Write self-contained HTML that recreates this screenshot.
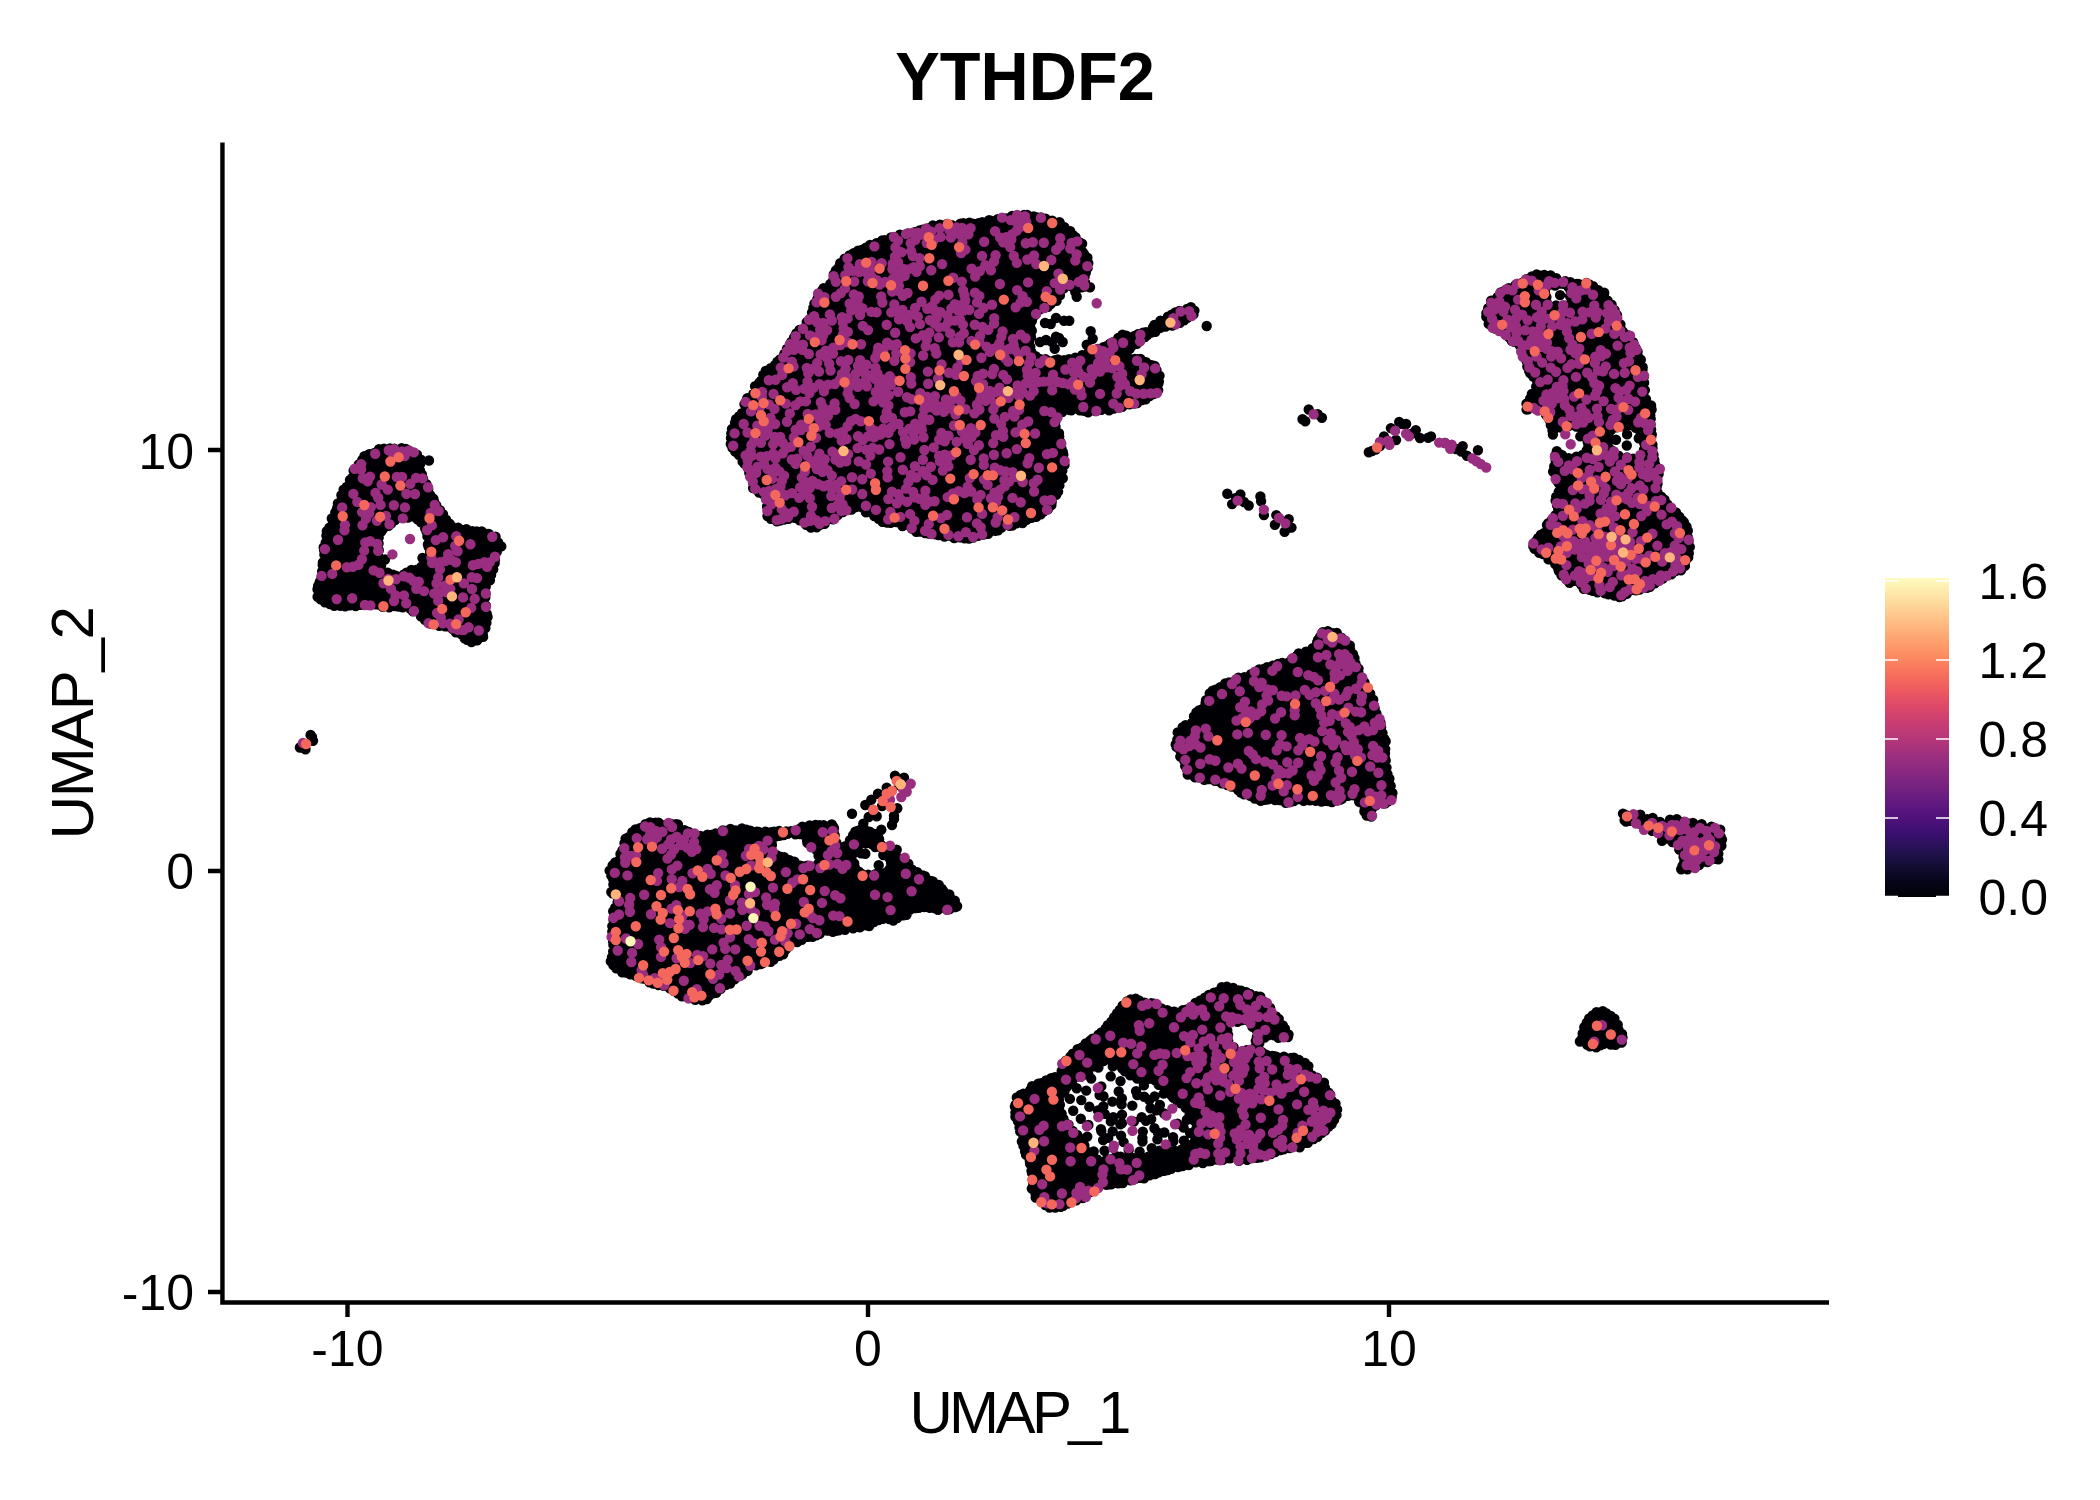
<!DOCTYPE html>
<html><head><meta charset="utf-8"><title>YTHDF2</title>
<style>html,body{margin:0;padding:0;background:#fff;width:2100px;height:1500px;overflow:hidden}svg{display:block}text{font-family:"Liberation Sans",Arial,Helvetica,sans-serif;fill:#000}</style>
</head><body>
<svg width="2100" height="1500" viewBox="0 0 2100 1500">
<defs><linearGradient id="mg" x1="0" y1="0" x2="0" y2="1"><stop offset="0.00" stop-color="#fcfdbf"/><stop offset="0.05" stop-color="#fde7a9"/><stop offset="0.10" stop-color="#fecf92"/><stop offset="0.15" stop-color="#feb77e"/><stop offset="0.20" stop-color="#fe9f6d"/><stop offset="0.25" stop-color="#fc8961"/><stop offset="0.30" stop-color="#f7705c"/><stop offset="0.35" stop-color="#ed5a5f"/><stop offset="0.40" stop-color="#de4968"/><stop offset="0.45" stop-color="#ca3e72"/><stop offset="0.50" stop-color="#b73779"/><stop offset="0.55" stop-color="#a1307e"/><stop offset="0.60" stop-color="#8c2981"/><stop offset="0.65" stop-color="#782281"/><stop offset="0.70" stop-color="#641a80"/><stop offset="0.75" stop-color="#51127c"/><stop offset="0.80" stop-color="#3b0f70"/><stop offset="0.85" stop-color="#251255"/><stop offset="0.90" stop-color="#140e36"/><stop offset="0.95" stop-color="#06051a"/><stop offset="1.00" stop-color="#000004"/></linearGradient></defs>
<rect width="2100" height="1500" fill="#fff"/>
<text x="1025.1" y="100.3" font-size="68.5" font-weight="bold" text-anchor="middle" textLength="259.5" lengthAdjust="spacingAndGlyphs">YTHDF2</text>
<g id="dots"><path d="M747.5 468.3L753.0 482.6L753.8 489.4L763.5 493.4L765.1 494.7L765.8 496.1L768.2 508.5L768.2 517.4L776.6 520.7L787.9 518.9L795.1 516.9L797.2 516.9L799.5 518.1L807.9 525.7L811.6 527.5L817.5 526.0L824.9 523.2L834.3 518.5L844.4 511.5L853.9 507.2L856.2 506.8L858.1 507.2L867.7 511.5L878.0 517.8L883.0 521.9L897.4 523.0L910.7 528.1L926.3 533.0L940.7 535.8L968.6 538.7L1008.2 527.1L1022.4 521.1L1039.6 515.3L1049.8 507.7L1056.2 493.0L1061.0 480.5L1064.7 462.9L1060.0 439.3L1054.8 422.5L1055.0 420.4L1055.7 419.0L1062.1 411.6L1063.6 410.4L1065.5 409.8L1076.3 410.8L1095.7 410.8L1113.1 408.9L1130.4 405.0L1141.8 400.3L1156.5 392.5L1158.9 383.1L1159.7 374.1L1156.1 367.6L1145.9 360.8L1129.3 356.5L1127.8 355.1L1127.0 353.3L1127.3 349.8L1128.8 347.9L1137.1 342.7L1148.4 334.5L1164.9 327.2L1180.8 322.2L1194.5 313.7L1195.2 310.8L1191.7 307.8L1175.0 312.8L1162.8 319.4L1149.0 329.8L1134.1 336.1L1121.6 335.3L1109.6 344.5L1101.6 347.9L1094.7 349.0L1078.6 358.0L1067.5 360.2L1044.0 360.1L1033.0 354.3L1031.0 351.5L1029.8 339.6L1030.8 333.4L1031.8 320.6L1032.4 318.6L1037.8 310.9L1046.5 306.4L1055.4 301.1L1059.1 296.0L1060.1 290.1L1062.1 287.7L1064.0 286.9L1071.0 285.9L1073.3 287.0L1076.7 290.3L1079.5 287.4L1086.9 284.3L1084.1 278.8L1083.8 276.7L1084.3 274.7L1087.9 267.6L1088.6 260.0L1084.4 255.5L1082.1 245.2L1077.1 238.4L1069.5 230.9L1060.5 223.7L1045.6 219.0L1024.8 214.3L1008.0 217.1L989.5 221.2L960.5 224.2L936.1 225.2L923.2 230.1L889.5 238.0L863.2 247.7L845.5 258.0L834.6 271.6L830.2 283.0L820.2 291.3L812.9 306.7L810.1 319.2L809.3 321.0L802.7 328.7L792.3 339.0L785.8 352.5L774.5 364.9L764.1 372.5L752.4 395.7L751.1 397.1L745.2 400.9L744.8 409.9L743.5 411.9L734.9 419.6L734.1 425.1L729.6 439.4L734.4 448.3L741.3 458.0ZM358.6 463.5L342.9 491.9L338.5 506.4L329.7 524.2L325.7 534.8L325.7 543.2L322.7 573.0L318.3 585.0L317.1 593.0L321.3 600.3L330.8 605.0L344.0 606.4L358.7 604.9L373.3 604.9L382.5 606.4L404.1 606.6L417.2 611.6L426.5 622.1L433.2 625.5L446.7 625.5L449.3 626.2L464.1 639.5L471.4 642.6L482.3 637.2L485.6 629.4L486.9 616.0L485.5 601.3L485.6 585.7L486.3 583.9L491.6 577.2L493.0 567.8L496.0 556.0L499.6 545.9L495.5 537.4L488.8 533.0L467.7 530.2L452.4 527.1L450.2 525.7L442.5 513.4L436.1 505.4L420.0 471.6L419.5 469.2L420.6 459.8L415.5 454.4L406.8 449.4L395.2 448.1L383.3 448.8L372.5 453.6L364.6 456.2ZM428.1 542.0L431.0 553.7L431.0 556.4L429.7 558.7L420.8 567.4L408.6 571.9L395.1 576.2L393.0 575.8L383.5 570.5L381.4 568.4L376.9 546.0L377.0 543.7L381.8 530.9L392.5 521.5L411.0 515.9L412.6 515.8L414.6 516.5L424.5 525.1L425.7 526.8ZM1500.6 293.1L1491.2 301.5L1487.3 311.1L1489.2 325.8L1496.8 328.8L1503.0 333.8L1512.8 339.9L1519.6 346.7L1523.9 357.3L1527.7 363.9L1528.9 371.2L1533.6 375.1L1534.8 376.9L1537.5 386.3L1537.4 388.8L1536.0 390.9L1530.5 395.3L1526.6 403.2L1525.9 408.2L1527.4 409.6L1541.3 409.6L1544.4 411.1L1545.6 412.7L1550.5 423.9L1553.2 434.4L1554.3 430.4L1557.2 427.9L1572.6 425.3L1574.8 425.8L1585.8 431.4L1587.7 433.4L1588.7 436.4L1586.4 451.1L1584.8 453.8L1582.6 455.2L1569.6 458.6L1567.2 458.7L1564.2 457.6L1555.9 451.2L1555.9 460.9L1553.5 470.7L1558.4 486.5L1556.0 498.8L1557.0 512.2L1555.6 514.9L1548.8 520.6L1545.0 531.4L1536.8 539.9L1531.4 547.2L1531.9 548.2L1539.5 553.7L1554.1 561.7L1555.4 563.4L1558.9 572.7L1566.0 578.9L1577.9 583.7L1589.3 589.9L1611.2 594.8L1622.6 596.8L1629.6 590.8L1631.5 589.8L1647.7 588.4L1659.8 580.1L1683.4 568.3L1690.3 549.0L1687.5 537.8L1686.2 526.7L1682.0 519.5L1672.1 509.4L1659.4 494.2L1658.4 492.5L1656.9 479.5L1659.2 468.9L1653.2 457.8L1653.1 445.7L1650.7 430.9L1649.6 419.6L1650.7 406.1L1646.4 396.5L1643.7 387.0L1643.6 374.5L1641.3 363.2L1639.1 355.5L1634.4 345.9L1630.1 335.3L1622.6 329.9L1621.4 328.5L1617.5 319.2L1615.3 309.4L1607.6 301.7L1602.9 293.6L1595.6 288.4L1587.3 283.7L1573.0 283.2L1559.1 280.7L1543.7 274.4L1534.0 275.8ZM1609.4 432.4L1611.3 429.2L1614.2 427.5L1629.5 425.3L1631.6 425.4L1633.7 426.4L1643.1 432.6L1645.3 435.7L1645.7 439.1L1643.6 451.4L1642.6 453.7L1640.7 455.7L1638.0 456.7L1624.1 458.8L1622.0 458.5L1620.2 457.6L1610.5 450.1L1608.7 447.5L1608.3 444.6ZM1545.5 294.0L1545.3 291.4L1545.9 289.0L1547.1 287.3L1549.1 285.9L1551.4 285.3L1562.7 284.3L1564.7 284.5L1567.2 285.7L1569.2 288.3L1571.6 297.8L1571.6 300.5L1570.1 303.5L1567.3 305.4L1555.7 306.7L1553.4 306.6L1550.9 305.4L1549.1 303.4ZM1312.6 648.2L1310.7 649.9L1299.7 654.0L1287.9 662.6L1273.2 664.3L1260.1 669.5L1245.9 676.6L1231.9 680.9L1209.9 692.5L1206.8 697.7L1203.6 708.2L1201.3 710.2L1195.5 712.1L1194.4 719.3L1192.8 721.9L1183.1 726.4L1181.5 728.8L1177.5 739.4L1174.6 745.3L1180.0 752.0L1189.0 774.9L1196.1 775.9L1210.3 780.2L1223.3 783.1L1248.9 795.8L1258.9 799.6L1272.5 799.6L1286.0 802.3L1300.0 799.6L1314.3 801.0L1327.7 801.0L1340.5 799.7L1351.4 794.3L1354.5 794.2L1356.3 795.1L1357.4 796.2L1363.5 806.9L1363.9 809.9L1362.8 812.7L1368.0 816.0L1372.3 814.7L1373.5 807.2L1375.4 804.8L1377.8 803.8L1388.2 802.7L1390.5 799.6L1392.5 792.4L1388.7 782.0L1385.8 749.5L1383.1 735.9L1379.0 719.5L1369.4 692.1L1363.8 682.3L1358.2 669.7L1355.3 659.5L1351.3 650.3L1346.3 641.5L1336.9 633.3L1324.2 631.2ZM618.8 859.0L617.5 860.8L610.6 866.1L609.4 870.7L613.2 881.3L612.3 891.7L616.7 898.7L617.2 901.1L616.8 903.1L612.4 911.1L613.2 919.4L611.3 930.1L613.2 942.6L613.2 954.0L612.9 955.6L610.3 961.6L624.3 973.2L636.7 976.1L649.8 982.1L664.2 986.3L677.2 992.3L687.8 998.1L696.5 999.8L705.3 999.8L725.1 984.7L739.0 976.7L752.0 965.7L753.8 964.9L766.3 962.1L780.0 955.7L790.1 945.7L802.1 939.2L813.2 936.1L822.9 931.9L832.4 931.8L845.9 928.9L859.0 927.9L870.8 924.2L880.0 918.9L892.5 919.7L904.1 916.4L909.4 910.2L912.1 908.9L927.1 907.8L940.2 910.7L958.5 908.0L951.0 896.4L943.6 890.0L932.2 880.4L919.8 874.7L910.8 869.1L902.4 860.8L894.9 854.2L889.7 850.9L887.3 851.2L885.0 850.2L883.3 848.3L876.1 833.9L869.9 830.8L864.0 828.6L854.4 832.0L853.1 837.0L850.9 850.8L848.7 853.5L845.7 854.2L839.8 852.7L837.3 850.2L833.0 825.9L815.2 824.2L804.9 826.0L796.5 831.0L786.0 832.2L775.7 831.2L766.3 831.2L755.5 832.2L741.6 828.3L726.1 830.1L712.9 834.1L699.9 836.2L698.0 835.8L685.5 830.6L676.2 824.1L660.0 823.2L647.2 824.1L635.0 829.4L628.4 835.9ZM889.1 853.8L890.8 855.9L891.2 858.0L890.2 868.5L889.3 870.9L886.5 873.0L876.0 875.1L861.2 873.1L859.4 872.5L857.6 870.8L852.6 862.8L851.9 860.9L853.0 848.5L854.7 846.0L857.0 844.9L867.5 843.8L869.5 844.0L880.3 847.4ZM808.2 844.4L815.5 848.5L817.1 849.8L818.0 851.6L820.2 860.5L819.0 863.3L817.1 864.8L805.7 867.2L792.8 862.7L785.7 856.9L776.1 855.1L774.2 854.4L772.8 853.0L771.9 851.2L770.8 842.7L771.5 840.3L773.8 838.3L788.3 833.1L790.4 832.8L801.9 834.9L803.7 835.6L805.7 837.7ZM1022.3 1136.4L1022.5 1145.2L1027.3 1155.0L1032.7 1171.1L1032.8 1188.2L1037.0 1198.1L1046.9 1206.7L1056.1 1208.0L1085.3 1196.6L1099.0 1188.0L1113.8 1182.5L1127.8 1180.8L1142.8 1177.4L1158.0 1172.4L1173.7 1168.9L1191.2 1163.6L1208.5 1161.9L1225.9 1158.4L1243.4 1160.1L1261.1 1156.9L1285.2 1148.2L1298.7 1146.5L1314.7 1138.5L1324.1 1132.3L1333.4 1121.4L1337.6 1111.5L1336.4 1104.0L1326.6 1090.8L1323.4 1083.1L1310.0 1074.4L1309.0 1072.7L1306.0 1064.0L1298.4 1059.0L1276.9 1057.2L1259.2 1052.0L1256.7 1050.3L1255.9 1049.0L1255.5 1047.0L1256.4 1044.1L1266.9 1035.5L1268.4 1035.0L1270.5 1035.0L1279.8 1038.2L1288.1 1036.1L1288.1 1033.0L1282.2 1022.8L1272.1 1012.5L1267.0 1004.1L1256.6 995.2L1242.5 992.1L1229.3 987.2L1219.6 988.6L1208.6 994.8L1198.5 1001.6L1189.7 1006.9L1177.3 1011.1L1164.9 1010.9L1163.1 1009.9L1155.8 1004.0L1142.7 1002.3L1134.1 998.0L1125.3 1003.1L1115.9 1014.0L1108.2 1026.8L1094.2 1037.4L1084.0 1045.9L1073.7 1052.7L1063.3 1063.2L1061.7 1072.4L1060.0 1075.0L1041.8 1082.6L1026.9 1090.8L1016.5 1098.2L1014.1 1105.5L1017.2 1119.4ZM1255.1 1045.9L1254.1 1048.2L1251.5 1050.0L1240.5 1052.2L1238.5 1052.0L1236.7 1051.0L1229.3 1043.7L1228.0 1041.5L1227.8 1026.5L1229.0 1023.6L1231.6 1022.0L1244.1 1019.9L1246.2 1020.0L1248.5 1021.2L1255.9 1029.6L1257.1 1031.8L1257.1 1033.9ZM1093.6 1064.7L1095.0 1063.3L1096.9 1062.5L1114.0 1059.0L1116.0 1059.0L1118.0 1059.8L1119.4 1061.3L1125.6 1073.7L1141.6 1079.5L1160.1 1079.5L1163.0 1080.7L1164.3 1082.4L1170.5 1095.1L1187.3 1108.4L1196.9 1123.6L1197.4 1126.6L1195.6 1140.3L1194.6 1142.6L1192.7 1144.3L1178.1 1151.4L1160.5 1151.6L1141.4 1158.4L1115.8 1156.9L1103.1 1161.6L1101.0 1161.9L1099.0 1161.4L1091.3 1157.5L1089.7 1155.6L1083.2 1142.5L1062.4 1118.1L1058.4 1100.2L1059.2 1097.3L1071.8 1081.1L1073.5 1079.9L1087.5 1073.8ZM1589.3 1019.1L1584.0 1028.0L1583.7 1035.8L1580.9 1040.9L1581.0 1042.5L1585.2 1045.2L1597.3 1047.3L1604.3 1044.0L1613.2 1043.9L1618.4 1045.0L1620.5 1043.0L1622.1 1037.7L1622.1 1033.5L1618.8 1030.2L1616.7 1022.8L1613.9 1019.0L1609.2 1016.3L1605.5 1012.9L1602.2 1011.7L1597.6 1013.1L1593.5 1016.5ZM1635.6 821.5L1637.6 822.3L1643.8 827.3L1660.1 830.1L1662.4 832.6L1663.2 837.8L1665.7 839.5L1674.3 840.7L1676.9 842.2L1680.2 848.3L1685.9 851.8L1687.4 854.4L1687.1 857.9L1681.6 867.2L1683.2 868.1L1685.8 867.4L1699.6 861.2L1709.1 861.0L1716.8 857.0L1717.0 852.4L1719.9 844.8L1719.4 834.0L1718.2 832.3L1699.8 826.7L1691.6 825.4L1683.6 822.4L1676.3 821.4L1669.8 822.6L1666.9 825.6L1663.9 826.2L1661.9 825.6L1658.3 823.2L1651.0 820.5L1641.6 819.7L1636.5 816.7L1624.4 814.5L1622.8 815.8L1623.0 817.2L1625.9 819.8Z" fill="#000004"/><path d="M922.5 229.7h0M929.0 228.3h0M932.9 225.4h0M939.9 224.7h0M944.1 225.4h0M947.1 223.9h0M951.8 225.1h0M960.4 223.7h0M963.3 223.2h0M969.4 222.7h0M972.8 223.6h0M978.5 223.1h0M982.2 222.3h0M989.1 220.1h0M991.8 220.9h0M997.7 219.1h0M1003.4 218.1h0M1008.1 218.1h0M1012.2 216.0h0M1017.6 216.4h0M1024.0 214.9h0M1027.2 215.0h0M1033.7 216.5h0M1037.1 217.4h0M1041.0 217.4h0M1045.6 218.6h0M1052.2 220.8h0M1059.5 222.3h0M1060.7 224.7h0M1064.4 227.3h0M862.4 249.7h0M865.9 247.7h0M870.0 244.9h0M876.5 243.2h0M882.2 240.4h0M884.6 240.3h0M891.0 237.4h0M894.6 237.4h0M899.8 234.7h0M906.9 234.2h0M908.0 233.5h0M914.8 232.2h0M919.6 230.5h0M1070.3 231.3h0M1073.1 235.2h0M1075.5 237.1h0M1079.8 242.4h0M1082.1 243.8h0M838.1 268.1h0M840.2 263.3h0M844.6 258.7h0M849.4 255.4h0M853.6 253.3h0M858.0 250.8h0M1082.7 252.3h0M1084.0 254.0h0M1087.4 257.8h0M1087.6 267.9h0M1088.3 263.3h0M823.6 288.3h0M830.3 284.0h0M833.4 280.0h0M833.8 274.5h0M835.9 270.4h0M1063.8 288.2h0M1066.6 285.7h0M1072.5 286.9h0M1075.0 289.9h0M1081.7 287.3h0M1084.6 276.9h0M1084.8 286.5h0M1085.0 282.1h0M1085.8 272.8h0M1090.0 287.3h0M1508.6 288.1h0M1515.8 284.8h0M1516.6 284.8h0M1521.9 282.9h0M1527.0 279.2h0M1531.8 276.5h0M1536.7 274.4h0M1542.3 275.5h0M1544.2 275.0h0M1545.2 289.3h0M1549.4 284.8h0M1550.6 275.5h0M1555.1 285.6h0M1556.2 278.1h0M1559.2 281.6h0M1560.1 283.6h0M1563.6 283.9h0M1565.2 281.1h0M1568.7 287.4h0M1570.3 282.3h0M1576.3 283.9h0M1578.4 284.0h0M1586.5 283.0h0M1589.3 284.5h0M1593.1 286.3h0M813.4 307.7h0M814.4 303.6h0M817.4 298.9h0M818.7 293.5h0M822.2 290.4h0M1039.9 309.2h0M1045.3 307.4h0M1048.0 306.8h0M1050.7 304.1h0M1056.6 300.8h0M1059.4 290.7h0M1059.9 295.4h0M1075.3 292.0h0M1076.7 296.7h0M1187.1 309.0h0M1190.9 307.2h0M1488.2 308.2h0M1491.2 300.8h0M1491.2 304.1h0M1497.5 297.1h0M1500.7 292.4h0M1505.5 290.3h0M1545.1 293.2h0M1546.4 297.3h0M1546.8 302.6h0M1553.2 307.5h0M1556.1 305.4h0M1560.1 295.1h0M1562.3 306.6h0M1565.9 305.8h0M1570.1 296.3h0M1570.8 291.8h0M1572.0 300.9h0M1598.3 290.2h0M1604.1 296.6h0M1604.2 292.7h0M1607.7 300.7h0M1611.6 304.6h0M799.5 329.9h0M805.9 326.4h0M806.7 322.2h0M810.2 319.0h0M812.0 312.6h0M1030.2 326.9h0M1031.9 320.8h0M1033.4 316.5h0M1035.5 314.6h0M1045.0 323.0h0M1050.7 324.0h0M1056.0 318.0h0M1064.0 320.7h0M1069.3 320.7h0M1153.0 327.4h0M1154.4 324.9h0M1160.3 327.9h0M1160.4 320.7h0M1165.0 320.4h0M1165.6 326.5h0M1167.9 316.6h0M1171.6 314.7h0M1172.2 325.5h0M1174.5 324.2h0M1175.3 312.5h0M1179.5 311.0h0M1179.9 322.8h0M1184.1 320.2h0M1187.4 317.7h0M1193.5 314.2h0M1194.4 310.6h0M1206.7 326.0h0M1486.3 316.7h0M1486.4 313.2h0M1488.7 323.9h0M1492.0 326.6h0M1495.2 328.5h0M1614.6 310.2h0M1616.9 318.2h0M1617.1 315.3h0M1620.4 324.5h0M1620.8 328.9h0M787.0 348.7h0M789.7 345.2h0M791.3 341.9h0M794.1 337.5h0M796.3 333.5h0M1029.4 340.7h0M1030.3 346.8h0M1031.0 336.9h0M1031.8 330.8h0M1040.0 342.0h0M1046.0 340.0h0M1052.0 342.0h0M1054.7 348.7h0M1056.0 336.7h0M1059.0 338.0h0M1062.7 342.0h0M1086.7 344.7h0M1090.7 331.3h0M1092.7 338.7h0M1097.9 348.9h0M1103.4 347.3h0M1106.9 345.9h0M1110.0 343.7h0M1114.0 342.0h0M1118.3 337.9h0M1122.5 334.7h0M1126.3 335.7h0M1129.7 348.9h0M1132.1 345.5h0M1133.9 336.2h0M1136.9 343.7h0M1138.0 334.2h0M1139.4 341.2h0M1143.0 332.8h0M1145.0 337.0h0M1146.0 332.2h0M1147.3 335.0h0M1151.2 332.6h0M1155.4 331.7h0M1499.9 330.2h0M1505.3 334.1h0M1509.1 337.4h0M1511.8 340.9h0M1514.4 341.8h0M1519.7 345.3h0M1622.8 331.4h0M1628.3 335.4h0M1630.1 338.7h0M1633.1 342.2h0M1635.9 348.4h0M770.7 368.1h0M775.1 365.0h0M777.4 361.6h0M780.0 359.4h0M784.3 354.0h0M1031.2 351.6h0M1035.7 356.1h0M1040.4 359.1h0M1045.5 359.1h0M1048.1 360.7h0M1054.8 360.2h0M1057.8 359.5h0M1064.0 360.3h0M1069.0 359.2h0M1075.3 357.7h0M1078.3 358.1h0M1082.2 355.2h0M1088.5 352.4h0M1091.1 351.6h0M1126.7 353.6h0M1134.7 358.9h0M1137.4 359.1h0M1140.5 358.9h0M1146.0 362.2h0M1151.6 365.2h0M1154.7 366.0h0M1521.8 350.5h0M1524.0 353.9h0M1526.6 361.1h0M1527.3 366.5h0M1637.6 351.7h0M1637.7 355.8h0M1640.8 359.7h0M1642.5 369.8h0M1642.7 367.3h0M755.1 386.3h0M759.3 382.8h0M761.1 380.6h0M763.3 374.7h0M765.7 371.0h0M1156.5 370.3h0M1158.4 383.5h0M1158.9 381.4h0M1159.5 375.7h0M1529.2 371.0h0M1530.1 373.0h0M1533.2 376.5h0M1536.2 386.7h0M1537.0 380.8h0M1642.3 384.0h0M1643.9 376.5h0M1644.1 382.8h0M744.5 404.2h0M746.0 408.8h0M747.3 398.3h0M752.1 396.7h0M753.4 393.6h0M1101.3 409.7h0M1113.8 408.6h0M1119.5 407.2h0M1122.3 406.8h0M1129.5 404.3h0M1133.2 403.4h0M1137.2 403.1h0M1141.9 400.0h0M1145.7 399.3h0M1149.6 396.0h0M1153.6 394.1h0M1158.2 390.1h0M1308.7 409.5h0M1526.5 403.7h0M1526.6 409.6h0M1528.1 409.3h0M1530.1 398.6h0M1531.9 394.0h0M1535.7 408.9h0M1537.3 390.5h0M1539.6 409.5h0M1644.9 390.1h0M1645.2 398.4h0M1646.0 399.1h0M1651.1 405.5h0M1651.6 409.5h0M732.0 428.9h0M735.1 422.7h0M736.0 419.3h0M739.1 416.2h0M741.9 413.3h0M1055.1 417.8h0M1055.3 421.8h0M1055.5 426.6h0M1058.7 412.7h0M1062.2 412.0h0M1069.8 410.1h0M1071.3 410.4h0M1079.8 410.3h0M1084.1 410.8h0M1088.1 412.2h0M1094.5 410.6h0M1095.6 411.0h0M1109.1 410.3h0M1302.5 419.2h0M1305.3 421.2h0M1317.7 414.3h0M1321.9 417.8h0M1390.9 428.1h0M1399.2 421.9h0M1402.0 424.0h0M1406.1 424.0h0M1545.7 411.6h0M1546.0 414.8h0M1549.6 420.1h0M1550.8 425.1h0M1560.9 427.5h0M1563.7 425.5h0M1568.4 426.0h0M1573.3 424.6h0M1576.3 426.6h0M1611.2 429.8h0M1616.4 427.2h0M1623.2 426.3h0M1626.3 426.0h0M1630.1 424.8h0M1635.7 427.7h0M1638.9 429.6h0M1650.3 415.3h0M1650.6 424.4h0M1650.7 419.0h0M1651.1 429.5h0M379.0 449.3h0M384.0 448.7h0M390.0 448.5h0M394.2 448.6h0M401.6 448.3h0M405.8 448.9h0M730.8 444.0h0M731.0 437.9h0M731.3 433.4h0M732.5 447.9h0M1059.0 433.3h0M1059.2 436.6h0M1060.3 441.9h0M1061.4 448.3h0M1375.7 449.6h0M1380.0 446.0h0M1384.0 436.4h0M1396.0 440.0h0M1411.6 433.7h0M1415.8 430.2h0M1420.0 438.0h0M1428.2 437.8h0M1431.0 436.4h0M1445.0 443.0h0M1456.0 449.0h0M1462.7 446.1h0M1552.5 430.5h0M1552.9 434.6h0M1553.4 430.2h0M1580.3 436.4h0M1582.5 430.0h0M1587.6 432.8h0M1587.7 442.1h0M1588.4 445.9h0M1589.3 437.6h0M1608.2 441.4h0M1608.5 438.1h0M1608.6 447.3h0M1609.8 431.3h0M1616.0 439.7h0M1626.8 445.5h0M1627.1 434.4h0M1638.8 438.2h0M1644.0 449.6h0M1644.2 443.1h0M1646.5 435.5h0M1646.7 439.8h0M1651.2 437.4h0M1651.8 434.6h0M1652.4 444.7h0M1652.5 448.2h0M356.4 469.4h0M358.8 464.4h0M362.3 459.9h0M364.4 456.1h0M369.2 454.2h0M374.5 453.0h0M410.6 452.0h0M412.8 452.7h0M417.0 454.8h0M420.2 463.8h0M420.9 459.6h0M429.0 460.5h0M735.2 451.6h0M738.8 454.7h0M742.6 461.5h0M744.3 463.6h0M748.1 468.3h0M1062.8 452.0h0M1063.3 454.8h0M1063.6 461.1h0M1064.5 464.9h0M1368.8 452.3h0M1372.0 451.0h0M1461.3 451.6h0M1466.9 455.8h0M1477.9 450.2h0M1554.2 466.4h0M1555.2 455.8h0M1555.7 460.7h0M1556.8 451.2h0M1560.5 454.5h0M1562.1 455.3h0M1568.7 458.1h0M1574.1 459.3h0M1576.4 456.7h0M1582.6 454.9h0M1586.7 450.4h0M1612.2 450.6h0M1613.5 453.0h0M1618.5 455.8h0M1626.1 459.1h0M1627.0 457.4h0M1633.2 458.7h0M1640.3 456.6h0M1643.6 453.7h0M1653.5 454.7h0M1654.3 459.9h0M1654.9 464.0h0M1659.3 468.7h0M343.6 489.6h0M346.6 486.9h0M350.0 479.9h0M352.4 477.8h0M353.6 470.6h0M420.0 470.5h0M421.9 474.5h0M423.0 478.7h0M426.4 484.2h0M428.2 489.0h0M749.3 472.9h0M752.1 475.4h0M753.1 488.1h0M753.3 483.5h0M755.8 488.9h0M1059.4 485.4h0M1060.8 479.3h0M1062.3 470.6h0M1062.8 478.3h0M1553.1 471.6h0M1555.4 474.3h0M1557.1 480.7h0M1559.0 483.5h0M1656.7 486.9h0M1657.0 478.2h0M1657.5 483.8h0M1658.6 474.1h0M337.2 507.9h0M337.9 503.4h0M341.4 495.2h0M341.5 500.5h0M430.3 495.1h0M433.4 498.8h0M434.2 501.9h0M436.3 505.5h0M759.1 492.6h0M763.8 494.5h0M766.0 498.7h0M767.1 506.5h0M768.4 508.1h0M847.8 509.6h0M851.6 509.5h0M856.0 507.0h0M862.2 507.2h0M1048.1 509.0h0M1051.4 505.0h0M1051.7 501.9h0M1056.1 494.9h0M1058.1 491.6h0M1227.3 493.7h0M1232.1 504.1h0M1236.0 498.0h0M1240.4 494.4h0M1244.0 502.0h0M1248.7 505.5h0M1260.4 496.5h0M1261.1 501.3h0M1555.6 500.6h0M1556.2 496.6h0M1557.0 505.3h0M1558.7 492.0h0M1657.6 492.8h0M1661.3 496.8h0M1664.5 499.6h0M1667.5 504.4h0M1671.1 507.9h0M329.4 527.8h0M331.8 518.4h0M332.8 521.4h0M335.3 512.4h0M382.8 529.3h0M388.6 525.9h0M391.2 523.6h0M395.1 520.0h0M402.7 517.5h0M407.8 517.5h0M411.5 516.2h0M413.9 515.4h0M417.4 519.3h0M421.0 522.4h0M425.2 528.4h0M440.0 510.1h0M443.0 514.2h0M446.1 519.8h0M449.6 523.7h0M451.3 526.2h0M458.1 527.8h0M462.2 529.9h0M466.4 529.1h0M767.5 516.0h0M770.8 518.7h0M776.8 521.3h0M779.9 520.5h0M783.9 519.6h0M788.5 518.7h0M794.8 517.7h0M799.7 520.2h0M803.9 520.5h0M806.2 524.9h0M810.9 527.6h0M816.7 527.2h0M819.6 525.1h0M824.6 523.9h0M829.7 518.8h0M833.1 519.3h0M837.8 515.1h0M842.9 512.1h0M866.0 512.4h0M869.5 511.8h0M874.3 516.1h0M878.6 518.7h0M882.5 521.8h0M887.1 522.5h0M890.7 522.8h0M896.3 522.1h0M902.5 526.1h0M906.3 524.6h0M911.8 528.5h0M1001.5 527.6h0M1009.6 525.9h0M1012.3 525.6h0M1016.5 523.3h0M1022.5 523.1h0M1026.6 519.8h0M1031.4 517.8h0M1036.3 516.9h0M1040.7 514.4h0M1044.0 511.3h0M1263.9 515.1h0M1274.9 524.8h0M1276.3 515.1h0M1288.7 519.3h0M1291.5 527.6h0M1547.0 525.0h0M1548.0 523.4h0M1551.3 520.6h0M1555.5 515.3h0M1558.3 510.1h0M1676.0 512.4h0M1679.3 516.7h0M1682.3 520.5h0M1683.9 522.3h0M1686.5 526.7h0M323.7 547.2h0M325.7 542.6h0M326.4 535.8h0M326.8 531.2h0M375.9 548.6h0M378.6 543.4h0M378.7 537.6h0M381.2 531.5h0M426.5 531.4h0M427.4 536.2h0M427.9 544.4h0M428.6 546.8h0M472.3 531.3h0M476.6 531.5h0M481.7 531.5h0M487.0 533.9h0M488.9 534.0h0M495.6 536.7h0M498.1 542.5h0M501.3 546.4h0M916.3 531.9h0M920.3 531.5h0M925.1 533.0h0M929.5 533.9h0M935.2 534.4h0M938.6 535.0h0M944.5 536.5h0M949.0 535.6h0M954.2 538.1h0M959.6 537.4h0M964.6 538.4h0M969.0 538.6h0M973.2 537.6h0M978.1 535.9h0M983.4 534.5h0M988.2 533.7h0M995.4 530.8h0M998.1 530.2h0M1284.6 531.7h0M1533.4 546.4h0M1534.6 548.9h0M1536.0 541.3h0M1538.0 538.1h0M1540.9 534.8h0M1544.2 533.0h0M1687.8 530.7h0M1687.8 537.3h0M1688.5 541.2h0M1689.8 546.9h0M322.7 564.9h0M322.9 562.4h0M324.1 550.2h0M324.4 554.8h0M378.3 556.1h0M378.8 550.3h0M380.0 561.4h0M381.1 565.2h0M385.0 559.5h0M411.5 569.9h0M416.9 569.6h0M421.5 566.8h0M422.5 558.0h0M424.9 563.2h0M428.2 560.8h0M430.1 552.0h0M431.5 557.3h0M493.2 569.4h0M494.7 563.0h0M494.8 560.1h0M495.2 554.2h0M496.8 551.7h0M1539.3 552.9h0M1543.1 554.1h0M1548.5 559.4h0M1551.4 559.1h0M1555.2 564.0h0M1558.2 568.6h0M1684.9 565.9h0M1685.4 561.1h0M1688.2 557.4h0M1688.8 553.2h0M317.5 589.3h0M318.1 585.9h0M319.8 581.9h0M321.6 577.4h0M322.1 571.4h0M383.9 572.2h0M387.7 572.7h0M393.0 574.7h0M395.7 575.8h0M403.6 574.6h0M406.4 572.6h0M485.7 586.8h0M485.7 583.7h0M489.9 580.3h0M491.1 574.9h0M1558.9 571.0h0M1561.5 575.3h0M1567.0 579.7h0M1569.5 582.8h0M1575.3 580.8h0M1581.1 584.5h0M1583.7 588.7h0M1589.6 589.9h0M1632.9 589.9h0M1639.7 589.5h0M1647.0 587.9h0M1650.0 586.7h0M1654.9 583.2h0M1657.9 579.1h0M1662.8 578.5h0M1667.7 575.2h0M1671.3 574.4h0M1675.4 571.1h0M1680.9 570.4h0M317.6 596.7h0M320.6 599.4h0M324.9 602.3h0M330.0 604.0h0M334.2 605.9h0M340.3 605.7h0M345.1 606.2h0M349.7 605.3h0M355.6 606.0h0M360.2 604.9h0M363.0 604.9h0M368.6 604.3h0M375.7 604.4h0M379.8 604.7h0M382.7 606.9h0M389.2 607.4h0M394.9 606.1h0M398.6 606.5h0M402.7 607.4h0M410.4 608.9h0M484.9 607.9h0M485.3 597.4h0M485.4 594.6h0M485.9 605.8h0M1592.7 590.8h0M1597.4 592.3h0M1605.0 593.4h0M1608.4 594.2h0M1614.4 595.5h0M1619.5 597.1h0M1622.2 596.4h0M1626.8 593.7h0M1636.0 590.3h0M413.0 611.4h0M419.0 612.5h0M420.9 616.3h0M424.8 619.8h0M428.1 622.2h0M431.5 623.7h0M439.3 625.8h0M445.2 626.2h0M446.6 626.2h0M452.4 628.8h0M485.4 628.1h0M486.4 622.9h0M486.8 614.0h0M487.6 617.0h0M455.8 632.2h0M461.3 634.1h0M464.6 638.2h0M467.0 639.7h0M471.5 642.0h0M477.2 640.2h0M482.8 634.7h0M483.1 636.9h0M1312.6 648.2h0M1317.2 642.2h0M1318.0 639.9h0M1320.0 636.9h0M1322.8 632.2h0M1327.8 631.3h0M1333.2 633.3h0M1336.8 632.9h0M1341.3 637.7h0M1345.4 642.2h0M1349.8 645.5h0M1350.1 649.5h0M1259.2 669.5h0M1263.0 669.3h0M1267.2 667.1h0M1272.8 665.8h0M1278.1 664.0h0M1282.2 663.0h0M1288.4 662.7h0M1291.5 659.9h0M1296.7 656.0h0M1298.7 653.5h0M1305.9 651.6h0M1306.9 652.1h0M1353.0 654.2h0M1354.5 658.3h0M1355.5 663.7h0M1358.5 668.6h0M1216.1 689.4h0M1220.2 687.3h0M1225.2 683.4h0M1229.1 682.5h0M1235.1 681.1h0M1238.4 677.8h0M1244.4 677.1h0M1251.0 674.1h0M1252.8 674.9h0M1358.3 671.7h0M1362.2 678.6h0M1364.5 682.5h0M1366.1 687.3h0M1202.6 709.0h0M1205.6 703.1h0M1206.0 700.2h0M1209.7 693.4h0M1212.6 690.6h0M1368.2 690.5h0M1370.2 693.7h0M1373.2 699.7h0M1374.0 705.4h0M1374.7 708.4h0M1182.7 727.1h0M1185.5 725.1h0M1192.1 722.7h0M1194.0 716.5h0M1196.4 712.4h0M1198.9 710.5h0M1376.4 713.5h0M1378.3 718.3h0M1380.5 722.8h0M1381.1 727.2h0M299.9 747.5h0M305.5 749.3h0M310.6 734.9h0M312.0 737.0h0M313.0 740.8h0M1175.7 744.5h0M1176.4 746.8h0M1177.3 739.6h0M1177.7 732.4h0M1180.0 750.0h0M1180.7 731.4h0M1382.5 733.1h0M1384.2 738.7h0M1385.2 749.1h0M1385.7 741.2h0M1180.3 756.6h0M1184.0 760.2h0M1185.2 766.0h0M1187.1 769.6h0M1385.0 758.2h0M1385.0 753.5h0M1385.7 760.4h0M1386.5 767.6h0M886.7 787.7h0M895.0 775.7h0M899.0 785.0h0M904.0 777.7h0M1187.7 774.5h0M1195.0 777.3h0M1198.2 777.1h0M1204.3 779.8h0M1209.1 779.0h0M1215.0 780.9h0M1220.1 781.8h0M1221.7 783.4h0M1227.4 785.0h0M1231.6 786.5h0M1387.5 774.2h0M1388.8 782.2h0M1389.4 778.7h0M1390.7 786.0h0M865.3 805.0h0M871.3 799.7h0M878.0 793.7h0M882.0 806.0h0M888.0 800.0h0M897.3 808.3h0M1238.2 790.0h0M1240.7 792.6h0M1244.0 794.2h0M1250.2 795.7h0M1254.7 798.6h0M1260.7 800.8h0M1265.1 799.9h0M1268.1 799.4h0M1275.1 800.1h0M1279.5 800.0h0M1285.7 802.9h0M1290.0 802.0h0M1293.8 801.1h0M1299.2 799.1h0M1303.6 800.8h0M1309.8 800.4h0M1315.8 800.7h0M1321.5 801.5h0M1324.6 800.9h0M1328.2 801.0h0M1331.9 802.1h0M1339.9 799.7h0M1342.0 798.7h0M1348.1 795.9h0M1353.5 795.2h0M1356.2 794.5h0M1359.2 801.7h0M1360.5 802.2h0M1372.0 808.6h0M1375.9 805.3h0M1380.7 802.9h0M1385.3 803.4h0M1388.1 801.4h0M1391.7 797.1h0M1392.4 792.9h0M635.4 829.4h0M639.8 828.2h0M645.4 824.3h0M649.9 822.4h0M655.5 822.8h0M658.6 822.8h0M665.6 825.0h0M671.2 823.9h0M676.0 824.3h0M677.9 824.5h0M730.4 828.9h0M742.0 828.5h0M746.4 829.6h0M799.9 828.6h0M802.4 826.8h0M809.6 825.5h0M815.6 824.9h0M819.4 825.2h0M823.6 825.3h0M831.8 824.4h0M833.2 826.7h0M834.0 828.3h0M852.0 813.7h0M863.3 823.7h0M864.0 829.0h0M868.7 817.0h0M873.3 813.0h0M876.7 816.3h0M881.3 829.7h0M892.0 825.0h0M894.0 819.0h0M894.0 815.7h0M1364.4 811.5h0M1364.6 810.2h0M1366.7 815.5h0M1371.3 816.6h0M1623.0 813.6h0M1624.0 814.3h0M1624.6 820.3h0M1626.0 821.6h0M1626.2 815.3h0M1630.1 820.9h0M1632.0 819.0h0M1632.4 816.7h0M1635.7 820.3h0M1637.2 816.5h0M1639.6 823.6h0M1639.8 818.5h0M1640.3 814.8h0M1644.9 827.3h0M1646.0 820.0h0M1647.3 819.1h0M1647.9 827.5h0M1650.7 821.0h0M1652.4 827.7h0M1652.7 817.9h0M1654.9 822.6h0M1659.9 829.4h0M1660.0 822.0h0M1660.4 823.6h0M1665.7 826.1h0M1669.7 823.8h0M1670.0 819.8h0M1672.8 822.9h0M1676.8 819.1h0M1678.5 821.4h0M1683.3 822.0h0M1689.1 823.7h0M1693.0 822.9h0M1694.5 826.6h0M1697.2 826.5h0M1701.6 824.1h0M1704.6 828.2h0M1708.0 829.8h0M1711.5 826.6h0M1720.2 829.7h0M624.5 843.3h0M625.6 838.6h0M628.6 837.1h0M632.3 832.3h0M684.5 830.1h0M688.7 831.9h0M691.4 834.3h0M700.3 836.0h0M700.9 837.0h0M707.4 834.7h0M711.3 834.9h0M715.7 833.5h0M722.8 830.5h0M725.0 830.9h0M735.7 830.4h0M750.4 830.7h0M756.8 831.7h0M758.8 831.9h0M765.6 831.8h0M771.3 832.3h0M771.6 843.0h0M771.9 845.1h0M774.1 831.7h0M775.2 836.5h0M779.1 830.9h0M779.2 835.9h0M783.7 835.1h0M786.2 831.4h0M787.5 833.7h0M791.0 831.3h0M795.4 834.4h0M797.3 831.8h0M799.8 834.1h0M805.0 835.5h0M807.1 840.7h0M807.4 842.9h0M813.1 846.7h0M832.7 841.7h0M833.8 832.6h0M834.7 835.3h0M836.3 842.6h0M836.4 848.0h0M845.3 846.3h0M850.0 840.3h0M852.0 839.7h0M853.0 843.7h0M853.1 835.3h0M854.0 846.6h0M855.3 831.7h0M855.9 832.3h0M856.3 846.4h0M858.0 838.3h0M858.2 830.6h0M859.8 844.2h0M860.0 830.0h0M865.9 843.3h0M869.8 831.8h0M870.0 842.3h0M872.2 844.2h0M874.6 833.9h0M875.3 847.0h0M875.3 843.8h0M878.2 837.3h0M879.1 839.2h0M879.9 846.8h0M881.3 845.1h0M883.7 849.9h0M884.2 849.9h0M896.7 849.7h0M1652.1 830.9h0M1662.0 840.8h0M1663.0 832.8h0M1663.2 839.3h0M1666.0 836.0h0M1667.3 838.6h0M1672.5 842.1h0M1673.2 841.0h0M1675.0 841.4h0M1676.0 830.0h0M1679.2 846.1h0M1679.3 849.5h0M1680.0 835.0h0M1685.2 849.1h0M1690.0 845.0h0M1690.0 830.0h0M1700.0 850.0h0M1700.0 835.0h0M1710.6 830.3h0M1715.0 835.0h0M1716.3 832.9h0M1719.4 838.9h0M1719.9 844.4h0M1720.8 837.0h0M1721.4 845.8h0M1722.0 839.6h0M612.6 865.5h0M615.2 862.5h0M618.9 860.5h0M620.5 854.0h0M622.4 850.5h0M771.6 852.7h0M776.7 855.2h0M781.5 856.9h0M784.2 857.2h0M789.6 860.1h0M794.4 861.8h0M800.5 865.6h0M804.0 866.5h0M807.3 865.6h0M814.0 866.6h0M816.7 850.3h0M818.4 863.7h0M818.6 855.9h0M819.8 857.8h0M838.2 851.5h0M843.3 852.3h0M847.1 854.9h0M850.2 851.3h0M851.5 859.3h0M852.8 854.1h0M854.2 863.5h0M855.0 867.7h0M861.0 853.4h0M865.3 853.7h0M878.7 865.3h0M883.3 855.0h0M887.6 851.3h0M888.3 852.9h0M889.4 869.4h0M889.9 858.8h0M891.1 863.3h0M892.4 853.1h0M896.3 856.1h0M901.5 861.4h0M903.4 861.9h0M908.3 863.6h0M911.8 869.5h0M1681.2 869.3h0M1682.5 865.9h0M1683.6 856.9h0M1684.3 861.8h0M1686.3 853.4h0M1686.8 867.0h0M1687.4 869.3h0M1687.5 856.7h0M1687.9 867.4h0M1696.6 862.0h0M1698.5 861.3h0M1699.1 865.0h0M1703.9 861.5h0M1705.0 860.0h0M1707.5 862.0h0M1710.0 855.0h0M1715.3 858.8h0M1717.2 851.2h0M1717.5 853.0h0M1718.3 853.8h0M1718.3 859.4h0M609.6 870.6h0M611.3 875.6h0M613.1 878.9h0M613.4 884.5h0M858.9 871.8h0M861.3 873.6h0M868.1 874.8h0M875.4 874.1h0M876.8 873.8h0M882.0 873.9h0M886.7 872.3h0M917.2 872.3h0M922.9 875.5h0M925.0 876.3h0M930.6 880.9h0M932.9 881.4h0M938.8 885.0h0M941.7 888.7h0M611.3 892.0h0M612.5 893.3h0M615.2 907.7h0M617.6 902.5h0M618.0 898.7h0M910.1 909.5h0M915.9 908.1h0M918.9 907.9h0M924.3 907.1h0M929.8 907.8h0M935.2 908.4h0M938.0 909.9h0M943.2 891.0h0M947.1 909.9h0M949.3 894.5h0M949.7 909.0h0M951.9 899.7h0M954.8 900.8h0M955.7 907.1h0M957.1 906.3h0M612.3 926.1h0M613.2 911.2h0M613.5 919.8h0M613.8 919.5h0M845.0 929.7h0M853.1 928.3h0M853.7 927.9h0M859.9 927.4h0M866.2 925.3h0M869.2 926.1h0M873.9 922.0h0M878.4 920.1h0M882.8 918.9h0M889.3 919.0h0M893.3 920.6h0M897.2 918.1h0M903.5 915.3h0M906.5 914.7h0M612.3 937.4h0M612.3 931.6h0M613.1 941.5h0M613.4 944.9h0M785.7 949.5h0M788.9 946.5h0M792.6 941.7h0M797.2 942.0h0M801.7 939.7h0M808.1 936.9h0M812.6 936.8h0M816.3 935.3h0M819.7 933.9h0M827.2 930.5h0M832.8 931.9h0M836.0 930.9h0M838.7 930.2h0M610.8 961.4h0M612.0 957.3h0M613.2 951.4h0M613.3 965.0h0M616.2 968.3h0M748.5 967.4h0M755.9 965.2h0M760.9 964.1h0M762.7 963.1h0M770.7 961.8h0M773.6 959.5h0M779.5 955.7h0M783.2 954.2h0M622.2 972.3h0M626.2 972.6h0M630.3 974.3h0M636.2 976.1h0M641.7 978.3h0M644.9 978.9h0M649.5 982.3h0M653.3 983.5h0M658.6 985.1h0M663.7 985.9h0M669.8 988.3h0M720.7 988.8h0M726.1 984.7h0M730.2 983.5h0M734.5 979.4h0M740.3 975.5h0M742.5 974.3h0M747.6 970.9h0M1221.7 987.2h0M1226.8 986.8h0M1233.2 988.0h0M673.9 991.1h0M678.0 993.5h0M681.9 996.3h0M685.9 996.2h0M688.8 998.0h0M695.2 999.9h0M702.4 1000.2h0M706.8 999.1h0M709.3 995.6h0M712.9 993.3h0M716.3 992.7h0M1119.8 1009.9h0M1122.6 1005.8h0M1127.0 1001.5h0M1130.7 999.4h0M1135.6 998.6h0M1139.0 1000.4h0M1144.7 1002.8h0M1151.4 1003.2h0M1154.2 1003.7h0M1158.2 1006.9h0M1161.5 1008.5h0M1186.0 1009.7h0M1190.8 1007.4h0M1195.4 1003.0h0M1200.4 1000.4h0M1204.8 997.7h0M1208.8 994.9h0M1214.0 992.7h0M1217.3 992.0h0M1238.5 990.5h0M1241.2 990.8h0M1246.2 992.3h0M1250.0 993.9h0M1256.0 996.2h0M1260.3 996.7h0M1264.2 1002.0h0M1265.3 1003.6h0M1270.1 1007.9h0M1105.7 1028.4h0M1107.8 1025.2h0M1111.3 1021.8h0M1114.2 1017.1h0M1117.1 1013.2h0M1167.3 1010.1h0M1173.9 1011.8h0M1174.9 1011.9h0M1182.8 1010.1h0M1227.6 1023.3h0M1231.5 1021.5h0M1237.4 1021.9h0M1241.2 1020.2h0M1246.2 1019.8h0M1250.9 1021.8h0M1252.5 1026.9h0M1271.1 1011.9h0M1276.1 1016.4h0M1278.7 1018.9h0M1282.9 1025.4h0M1284.9 1028.7h0M1584.3 1027.3h0M1586.8 1022.6h0M1589.2 1018.4h0M1592.6 1015.4h0M1596.5 1012.2h0M1602.8 1011.3h0M1606.1 1013.3h0M1610.7 1015.9h0M1614.4 1018.6h0M1617.7 1024.8h0M1618.5 1029.6h0M1077.6 1049.2h0M1082.3 1047.3h0M1085.7 1043.5h0M1090.4 1040.4h0M1092.5 1038.6h0M1098.5 1034.7h0M1101.3 1032.4h0M1227.3 1030.4h0M1228.1 1034.9h0M1228.2 1041.0h0M1229.5 1045.4h0M1233.6 1047.3h0M1255.0 1047.6h0M1255.8 1041.0h0M1256.3 1046.3h0M1256.3 1048.9h0M1256.8 1030.4h0M1256.9 1037.0h0M1259.3 1043.3h0M1264.7 1037.5h0M1268.1 1035.4h0M1274.1 1035.4h0M1278.4 1037.7h0M1281.5 1036.4h0M1287.9 1037.1h0M1288.5 1034.4h0M1579.9 1041.5h0M1582.3 1038.0h0M1582.7 1033.4h0M1587.2 1044.8h0M1590.0 1046.4h0M1596.2 1047.3h0M1600.3 1045.2h0M1603.3 1044.0h0M1610.7 1044.5h0M1615.5 1044.7h0M1621.7 1042.5h0M1622.0 1034.0h0M1622.5 1037.4h0M1063.2 1064.7h0M1066.0 1060.7h0M1070.5 1056.5h0M1072.8 1053.6h0M1091.4 1066.9h0M1093.7 1066.2h0M1097.8 1062.5h0M1098.4 1067.5h0M1103.5 1061.1h0M1108.8 1059.2h0M1112.8 1066.4h0M1113.0 1059.6h0M1118.8 1059.9h0M1119.9 1061.5h0M1122.3 1068.5h0M1237.5 1052.5h0M1241.2 1052.6h0M1246.6 1050.2h0M1252.2 1050.2h0M1261.6 1051.9h0M1266.1 1054.8h0M1272.3 1056.0h0M1274.2 1056.1h0M1276.3 1056.6h0M1283.9 1056.7h0M1291.0 1057.9h0M1294.0 1057.7h0M1299.0 1059.9h0M1304.9 1062.9h0M1307.9 1069.2h0M1308.4 1066.1h0M1032.1 1086.3h0M1038.3 1083.8h0M1041.1 1083.3h0M1046.1 1080.5h0M1051.1 1078.1h0M1055.0 1077.2h0M1061.7 1071.0h0M1062.6 1073.0h0M1066.7 1087.1h0M1070.3 1083.4h0M1073.2 1079.0h0M1076.7 1088.2h0M1080.8 1076.7h0M1082.7 1075.3h0M1088.4 1074.5h0M1091.2 1078.6h0M1101.3 1086.4h0M1110.7 1076.4h0M1120.5 1081.1h0M1124.9 1071.2h0M1130.2 1075.2h0M1133.4 1075.0h0M1137.2 1078.6h0M1143.9 1085.4h0M1144.2 1079.3h0M1149.2 1078.7h0M1155.1 1080.2h0M1158.6 1081.1h0M1158.7 1084.8h0M1163.8 1081.2h0M1165.8 1085.0h0M1167.6 1089.1h0M1312.1 1075.4h0M1317.0 1077.7h0M1317.1 1080.1h0M1324.0 1082.8h0M1325.0 1087.9h0M1014.9 1106.6h0M1015.6 1104.8h0M1016.8 1097.5h0M1020.5 1094.9h0M1023.4 1093.7h0M1030.2 1090.2h0M1059.0 1107.7h0M1059.2 1099.0h0M1059.9 1104.8h0M1062.3 1093.0h0M1064.5 1091.3h0M1069.9 1098.9h0M1081.3 1100.1h0M1086.2 1090.6h0M1089.3 1106.7h0M1099.6 1095.0h0M1103.3 1106.4h0M1103.5 1096.3h0M1112.4 1101.6h0M1118.7 1091.5h0M1121.6 1104.4h0M1121.9 1098.4h0M1132.3 1105.6h0M1136.1 1091.2h0M1137.3 1095.0h0M1144.2 1096.8h0M1149.3 1100.1h0M1150.5 1108.2h0M1154.6 1096.4h0M1159.9 1104.9h0M1163.7 1093.6h0M1171.6 1095.5h0M1173.4 1097.7h0M1177.0 1100.4h0M1180.9 1103.2h0M1185.7 1107.8h0M1328.6 1092.7h0M1330.2 1094.7h0M1331.8 1100.8h0M1335.5 1103.8h0M1337.1 1109.5h0M1015.4 1112.6h0M1015.4 1116.7h0M1018.0 1121.2h0M1019.5 1127.6h0M1061.6 1113.6h0M1063.4 1118.7h0M1064.7 1122.0h0M1068.5 1124.6h0M1073.2 1110.8h0M1080.8 1118.7h0M1088.4 1125.0h0M1097.9 1110.4h0M1100.9 1129.2h0M1104.7 1113.9h0M1110.8 1121.4h0M1113.3 1117.3h0M1120.4 1124.4h0M1121.9 1123.3h0M1122.0 1114.6h0M1133.9 1121.6h0M1141.7 1117.2h0M1145.9 1120.7h0M1151.2 1119.1h0M1154.4 1128.3h0M1156.2 1110.4h0M1164.1 1113.5h0M1177.4 1123.7h0M1183.6 1127.6h0M1186.9 1119.8h0M1189.6 1114.8h0M1189.9 1110.6h0M1194.4 1120.9h0M1196.2 1129.1h0M1196.3 1123.0h0M1328.8 1126.5h0M1331.7 1124.0h0M1334.1 1119.8h0M1336.5 1114.9h0M1020.2 1131.5h0M1021.9 1141.5h0M1023.2 1135.3h0M1023.5 1145.9h0M1072.6 1130.9h0M1077.2 1134.9h0M1078.5 1137.3h0M1082.0 1141.0h0M1084.4 1145.5h0M1087.3 1136.6h0M1101.3 1131.0h0M1103.1 1140.1h0M1108.2 1137.9h0M1112.7 1131.4h0M1121.1 1135.8h0M1123.6 1142.1h0M1142.4 1137.9h0M1142.5 1141.5h0M1142.8 1131.6h0M1151.7 1148.1h0M1157.4 1139.4h0M1157.9 1132.7h0M1164.3 1132.5h0M1173.1 1137.1h0M1173.3 1141.3h0M1181.4 1149.6h0M1183.9 1140.7h0M1184.1 1148.0h0M1189.4 1145.1h0M1190.1 1133.1h0M1194.6 1142.8h0M1195.0 1132.5h0M1195.3 1139.8h0M1280.6 1150.0h0M1283.6 1149.2h0M1289.5 1148.0h0M1296.8 1146.3h0M1299.7 1147.3h0M1305.1 1142.7h0M1307.8 1142.8h0M1313.5 1139.1h0M1317.6 1136.8h0M1321.9 1132.8h0M1325.1 1130.5h0M1025.1 1151.5h0M1026.1 1154.9h0M1029.8 1160.9h0M1030.1 1163.8h0M1087.7 1152.0h0M1090.0 1154.6h0M1093.7 1151.5h0M1094.7 1158.2h0M1097.2 1159.5h0M1101.1 1162.4h0M1104.5 1150.8h0M1106.9 1159.3h0M1112.1 1158.8h0M1116.3 1156.2h0M1120.6 1156.8h0M1126.2 1158.1h0M1128.7 1150.1h0M1133.4 1158.3h0M1138.0 1158.7h0M1139.6 1151.6h0M1140.9 1157.7h0M1148.3 1156.7h0M1151.7 1154.7h0M1156.3 1153.4h0M1159.5 1150.8h0M1165.9 1151.7h0M1170.6 1151.5h0M1171.2 1168.9h0M1174.9 1151.0h0M1178.0 1167.0h0M1182.5 1166.1h0M1188.8 1165.0h0M1191.8 1162.1h0M1195.7 1162.2h0M1202.8 1163.0h0M1208.1 1161.1h0M1210.7 1161.1h0M1216.6 1159.6h0M1222.7 1159.8h0M1226.4 1158.1h0M1230.1 1158.3h0M1239.0 1160.8h0M1240.0 1159.7h0M1247.1 1159.7h0M1252.5 1158.1h0M1257.0 1157.9h0M1260.7 1157.4h0M1265.9 1153.5h0M1270.8 1154.0h0M1275.2 1152.1h0M1031.5 1170.8h0M1031.8 1188.6h0M1032.0 1173.0h0M1033.2 1183.5h0M1033.5 1178.2h0M1096.1 1188.9h0M1099.1 1186.4h0M1106.6 1184.8h0M1111.2 1184.4h0M1112.6 1181.8h0M1118.2 1183.2h0M1122.7 1183.1h0M1130.4 1180.3h0M1135.2 1178.9h0M1139.6 1177.8h0M1144.0 1178.2h0M1149.5 1175.3h0M1155.1 1174.1h0M1158.8 1172.3h0M1164.2 1170.7h0M1167.6 1170.1h0M1035.5 1193.6h0M1035.7 1197.5h0M1042.4 1202.0h0M1045.3 1205.1h0M1049.5 1207.6h0M1055.2 1207.5h0M1060.7 1206.8h0M1063.2 1205.8h0M1067.6 1203.5h0M1073.9 1199.7h0M1076.3 1200.3h0M1082.7 1198.0h0M1086.2 1194.1h0M1090.1 1192.1h0" stroke="#000004" stroke-width="10.40" stroke-linecap="round" fill="none"/><path d="M926.1 228.4h0M939.7 228.3h0M949.4 230.0h0M956.5 227.4h0M962.1 227.9h0M970.6 228.1h0M1002.0 217.6h0M1010.7 220.1h0M1017.0 222.2h0M1017.2 215.0h0M1020.6 226.7h0M1024.9 216.3h0M1026.3 222.0h0M1040.9 217.9h0M874.4 246.4h0M893.9 237.0h0M895.4 247.4h0M898.0 240.6h0M906.1 233.9h0M910.7 243.3h0M912.1 232.9h0M915.4 239.8h0M917.6 232.6h0M922.5 234.6h0M926.8 243.1h0M931.3 231.6h0M933.8 239.8h0M940.7 236.9h0M950.9 237.6h0M954.3 232.3h0M959.8 234.2h0M962.4 242.4h0M965.4 249.6h0M968.4 234.3h0M984.2 241.7h0M995.1 231.2h0M1000.1 237.6h0M1003.2 242.2h0M1006.2 237.3h0M1010.2 247.1h0M1011.3 239.6h0M1012.3 234.1h0M1016.8 230.5h0M1025.8 243.2h0M1032.8 242.3h0M1043.8 242.7h0M1056.2 249.7h0M1060.0 245.6h0M1060.2 238.1h0M1070.3 248.5h0M1071.6 242.9h0M1077.2 241.4h0M847.4 258.4h0M848.4 267.1h0M859.8 264.3h0M863.5 268.6h0M870.5 269.2h0M871.5 261.9h0M881.7 263.3h0M892.4 269.3h0M892.7 263.7h0M895.0 256.8h0M898.0 262.3h0M901.4 252.2h0M902.9 268.8h0M907.9 269.5h0M911.1 251.3h0M912.9 256.0h0M913.6 267.3h0M919.6 258.1h0M919.8 266.1h0M942.1 264.1h0M961.1 253.0h0M971.6 268.7h0M982.0 255.9h0M985.3 265.3h0M994.0 261.5h0M995.6 255.2h0M1013.8 256.0h0M1016.8 262.9h0M1027.4 259.5h0M1034.1 255.5h0M1036.3 264.1h0M1051.3 260.0h0M1075.3 260.6h0M1076.7 254.5h0M1087.3 266.1h0M833.6 276.3h0M835.9 281.8h0M845.0 288.4h0M845.3 275.1h0M853.1 270.9h0M854.2 281.5h0M859.2 272.1h0M867.4 273.4h0M867.8 281.2h0M871.8 277.0h0M876.9 280.2h0M879.6 284.6h0M885.2 282.0h0M893.1 278.8h0M897.6 273.7h0M898.5 280.8h0M898.9 285.9h0M904.7 275.8h0M916.6 271.7h0M931.2 270.3h0M953.2 277.8h0M961.8 281.6h0M975.2 276.5h0M979.8 271.1h0M990.9 270.3h0M999.9 284.0h0M1028.1 282.4h0M1054.8 283.1h0M1058.5 273.7h0M1060.2 289.6h0M1062.9 285.3h0M1069.6 284.8h0M1078.9 281.9h0M1083.5 279.2h0M1084.4 285.5h0M1506.6 289.3h0M1517.0 283.8h0M1525.8 279.5h0M1531.8 280.6h0M1546.5 285.8h0M1549.1 281.1h0M1554.7 282.9h0M1563.2 282.0h0M1572.5 287.1h0M1585.8 289.5h0M816.6 302.3h0M818.1 293.8h0M824.4 297.2h0M835.9 296.8h0M840.9 293.0h0M849.6 303.7h0M853.8 294.4h0M857.2 308.9h0M857.4 301.4h0M858.7 296.5h0M862.4 308.2h0M881.2 296.5h0M882.4 302.5h0M892.2 291.5h0M894.3 304.5h0M898.9 291.1h0M902.5 309.9h0M902.9 295.7h0M907.5 293.0h0M915.2 307.9h0M921.5 301.8h0M927.3 308.7h0M932.2 306.2h0M935.3 299.6h0M939.2 295.6h0M948.4 294.8h0M951.4 308.4h0M954.8 304.1h0M960.7 305.1h0M963.1 290.4h0M964.5 295.3h0M965.3 300.5h0M969.3 309.8h0M975.0 292.7h0M977.0 302.4h0M979.3 295.9h0M983.5 308.0h0M992.0 304.7h0M1015.7 307.3h0M1017.2 290.1h0M1020.6 302.5h0M1022.6 296.1h0M1026.8 301.7h0M1044.4 308.0h0M1046.8 291.1h0M1096.7 303.3h0M1491.2 302.7h0M1494.4 309.5h0M1499.3 301.4h0M1500.0 307.5h0M1500.2 293.1h0M1505.0 306.7h0M1512.5 290.2h0M1515.1 309.8h0M1518.1 299.6h0M1536.0 304.8h0M1538.7 290.4h0M1547.6 304.7h0M1563.2 305.2h0M1571.5 293.1h0M1576.3 298.3h0M1580.6 290.5h0M1593.0 294.7h0M1594.3 305.4h0M1608.5 305.1h0M1612.6 309.1h0M803.0 328.8h0M809.1 319.8h0M814.1 316.3h0M817.1 322.2h0M820.2 329.6h0M823.4 322.9h0M829.9 314.4h0M831.9 320.5h0M842.0 317.3h0M842.8 322.5h0M843.6 328.8h0M847.6 318.4h0M851.2 310.6h0M860.1 315.0h0M862.8 325.9h0M871.4 311.9h0M876.6 312.2h0M886.7 324.7h0M891.3 312.4h0M897.7 311.9h0M899.0 319.3h0M903.8 317.6h0M907.2 321.4h0M910.1 327.1h0M910.3 314.8h0M917.7 316.4h0M920.0 324.1h0M929.8 320.1h0M934.5 323.5h0M934.8 310.7h0M936.8 317.8h0M939.0 327.1h0M940.4 312.1h0M945.2 326.6h0M947.4 315.4h0M948.3 321.9h0M955.0 320.6h0M958.4 310.7h0M960.1 319.8h0M962.9 324.6h0M963.6 310.5h0M974.8 324.8h0M979.0 313.9h0M982.4 326.9h0M988.3 329.9h0M994.1 323.5h0M994.2 318.1h0M1036.1 313.9h0M1173.3 318.1h0M1175.7 324.2h0M1180.6 311.6h0M1189.2 311.3h0M1191.5 316.1h0M1488.1 311.7h0M1492.1 318.9h0M1492.7 327.8h0M1496.1 324.1h0M1503.4 311.5h0M1507.5 319.6h0M1510.4 327.1h0M1515.8 326.0h0M1516.0 318.5h0M1522.1 314.6h0M1527.6 320.3h0M1537.0 317.1h0M1540.8 326.4h0M1541.2 321.0h0M1541.7 311.8h0M1545.5 318.5h0M1551.0 318.8h0M1552.2 326.6h0M1560.1 317.2h0M1560.6 324.8h0M1562.3 312.1h0M1567.3 323.3h0M1570.0 312.8h0M1575.3 321.5h0M1582.3 319.4h0M1582.6 311.6h0M1589.6 312.4h0M1595.8 317.6h0M1597.6 312.4h0M1605.5 328.5h0M1606.9 313.1h0M1608.9 321.3h0M1615.2 313.6h0M1617.3 318.1h0M789.9 344.3h0M794.0 349.9h0M795.7 336.2h0M796.6 345.0h0M802.4 349.9h0M802.9 344.8h0M810.0 335.4h0M815.7 337.2h0M821.6 340.4h0M823.0 335.4h0M827.1 330.1h0M833.3 347.7h0M840.4 345.0h0M842.8 334.9h0M847.5 342.2h0M847.8 331.9h0M861.0 344.2h0M868.0 330.1h0M878.2 347.8h0M887.1 342.6h0M891.5 345.2h0M895.2 332.8h0M896.8 344.1h0M915.8 338.4h0M922.9 335.1h0M925.7 346.2h0M926.8 339.6h0M929.4 332.8h0M934.8 348.3h0M938.8 337.4h0M950.2 333.4h0M952.9 342.4h0M959.0 342.4h0M959.9 336.7h0M963.8 333.2h0M971.6 340.9h0M979.2 341.5h0M980.1 335.9h0M986.6 346.6h0M994.0 348.6h0M999.3 343.5h0M1001.3 336.8h0M1002.6 331.4h0M1009.1 349.0h0M1013.0 338.9h0M1013.6 344.6h0M1014.8 349.7h0M1020.7 334.6h0M1025.6 338.3h0M1097.5 349.3h0M1112.1 342.5h0M1113.4 347.5h0M1123.1 342.7h0M1140.1 341.4h0M1140.4 334.7h0M1499.2 331.0h0M1505.7 335.0h0M1513.0 341.3h0M1516.5 333.0h0M1518.3 341.0h0M1522.3 345.0h0M1525.1 330.3h0M1528.2 344.9h0M1531.6 339.8h0M1532.8 331.4h0M1534.7 344.1h0M1538.2 338.5h0M1538.6 332.2h0M1540.4 347.0h0M1544.0 338.4h0M1546.7 348.9h0M1547.0 342.7h0M1566.9 331.5h0M1569.2 338.2h0M1570.5 349.7h0M1572.6 344.7h0M1579.3 348.6h0M1591.7 333.7h0M1614.4 333.7h0M1617.6 345.6h0M1620.2 330.7h0M1624.8 337.1h0M1629.7 347.8h0M1630.1 335.8h0M1634.2 344.7h0M1636.6 349.9h0M780.8 367.6h0M783.3 357.6h0M787.0 351.2h0M791.8 361.6h0M793.5 366.5h0M806.8 368.0h0M808.8 354.0h0M813.2 368.8h0M817.2 362.9h0M820.6 354.5h0M825.6 350.8h0M826.6 357.5h0M829.2 363.8h0M833.0 353.5h0M840.9 361.2h0M845.6 368.8h0M848.3 360.0h0M858.0 365.6h0M860.1 360.3h0M866.4 364.7h0M875.3 358.0h0M875.4 367.8h0M877.5 353.0h0M883.4 350.3h0M894.4 360.7h0M896.3 353.4h0M910.1 362.1h0M910.6 353.4h0M923.1 355.5h0M936.3 353.5h0M941.6 364.5h0M957.4 367.4h0M961.4 360.3h0M981.4 357.8h0M989.8 351.9h0M994.0 368.9h0M1003.1 350.1h0M1004.8 357.8h0M1008.0 361.6h0M1018.6 354.5h0M1025.6 350.6h0M1027.0 370.0h0M1029.1 363.0h0M1031.0 357.4h0M1039.6 363.2h0M1044.1 360.3h0M1065.4 369.5h0M1072.3 362.6h0M1077.1 366.0h0M1080.3 360.7h0M1091.6 369.2h0M1098.1 362.9h0M1099.7 355.0h0M1103.1 351.3h0M1105.3 361.1h0M1105.4 355.9h0M1106.8 367.4h0M1109.8 352.4h0M1112.1 368.1h0M1119.4 366.2h0M1137.0 360.8h0M1144.1 367.5h0M1155.2 368.4h0M1521.2 351.8h0M1522.8 356.7h0M1527.8 361.2h0M1529.4 367.5h0M1536.6 356.6h0M1542.2 362.6h0M1550.7 367.6h0M1551.2 356.6h0M1551.9 351.2h0M1557.7 351.8h0M1561.1 358.3h0M1567.5 367.9h0M1571.5 364.3h0M1575.4 353.2h0M1579.0 363.7h0M1580.0 357.9h0M1594.9 363.1h0M1595.2 356.8h0M1600.7 350.3h0M1601.2 356.4h0M1605.7 366.4h0M1605.9 353.6h0M1623.9 363.1h0M1628.9 361.4h0M1630.6 353.0h0M768.8 380.3h0M775.5 379.8h0M782.2 374.9h0M787.1 387.3h0M792.8 383.1h0M796.2 389.9h0M804.4 388.7h0M807.5 381.6h0M808.2 373.3h0M813.4 387.9h0M819.0 371.5h0M819.4 384.3h0M828.1 384.6h0M830.5 370.5h0M834.8 384.0h0M839.8 379.9h0M842.0 373.9h0M846.5 376.7h0M848.5 387.8h0M850.2 382.4h0M855.6 381.1h0M855.8 373.6h0M857.8 386.7h0M860.7 370.6h0M865.0 373.2h0M865.3 381.2h0M866.8 386.3h0M871.0 375.4h0M874.9 378.8h0M877.4 373.4h0M879.2 385.5h0M882.2 379.3h0M885.7 387.8h0M886.9 381.3h0M889.7 376.1h0M890.8 384.8h0M893.1 380.1h0M910.8 377.2h0M911.3 383.6h0M927.9 371.6h0M928.2 383.7h0M938.1 378.8h0M948.9 372.7h0M956.0 374.7h0M976.2 381.3h0M977.7 375.9h0M983.0 384.3h0M983.0 373.7h0M992.2 374.0h0M999.6 387.8h0M1003.2 374.9h0M1007.0 379.4h0M1017.6 385.5h0M1025.7 383.4h0M1027.7 375.6h0M1032.6 384.9h0M1034.1 379.3h0M1035.6 372.9h0M1038.3 382.0h0M1043.6 381.6h0M1049.1 381.5h0M1053.1 374.7h0M1057.6 382.0h0M1062.8 383.0h0M1068.6 384.3h0M1073.3 381.3h0M1073.7 372.1h0M1075.0 389.6h0M1078.8 372.5h0M1083.8 377.0h0M1090.0 382.6h0M1092.3 375.3h0M1100.0 371.5h0M1117.3 376.7h0M1119.4 386.0h0M1122.2 373.8h0M1122.3 379.9h0M1124.9 384.2h0M1141.6 374.3h0M1535.2 372.5h0M1540.2 382.1h0M1547.7 379.6h0M1556.0 371.7h0M1556.8 387.0h0M1562.6 386.0h0M1563.4 380.3h0M1576.0 376.9h0M1587.2 372.8h0M1592.1 377.2h0M1594.3 383.3h0M1598.0 370.6h0M1599.1 385.7h0M1602.9 371.4h0M1614.1 373.9h0M1615.5 388.1h0M1624.7 372.7h0M1626.4 389.9h0M1629.6 385.6h0M1637.9 376.8h0M1644.1 375.7h0M745.6 401.9h0M759.9 407.2h0M761.9 397.4h0M762.1 392.0h0M769.1 404.4h0M773.5 393.9h0M774.5 408.9h0M785.9 403.6h0M795.6 405.1h0M800.1 401.4h0M805.9 401.4h0M809.5 393.0h0M820.8 402.3h0M822.8 407.2h0M824.0 391.3h0M834.6 403.4h0M835.3 409.8h0M847.7 393.4h0M849.6 398.1h0M854.6 404.0h0M873.5 401.4h0M875.8 392.0h0M879.9 398.1h0M881.4 392.1h0M883.2 402.5h0M888.4 405.5h0M888.8 395.3h0M898.1 391.7h0M907.1 397.3h0M911.8 399.3h0M920.3 393.2h0M924.3 409.7h0M924.5 403.7h0M927.1 396.8h0M929.4 401.9h0M931.4 407.2h0M934.5 403.3h0M934.9 396.1h0M940.2 406.8h0M946.1 399.4h0M947.5 408.0h0M952.5 399.4h0M952.8 409.5h0M956.6 396.5h0M960.4 400.8h0M965.5 409.3h0M976.9 404.7h0M979.4 409.5h0M980.2 399.8h0M981.5 394.2h0M985.7 400.9h0M989.6 391.0h0M990.3 398.2h0M993.3 409.4h0M995.1 392.2h0M995.5 404.4h0M1003.9 394.5h0M1008.5 397.7h0M1013.6 392.9h0M1019.1 409.8h0M1019.3 396.1h0M1022.7 392.4h0M1030.0 395.6h0M1033.7 391.2h0M1052.2 390.4h0M1080.4 390.4h0M1081.6 395.4h0M1083.3 407.0h0M1100.1 393.9h0M1113.3 403.6h0M1116.7 393.5h0M1119.0 407.7h0M1130.3 391.2h0M1134.1 403.8h0M1136.3 393.6h0M1143.7 393.7h0M1150.7 393.4h0M1157.0 393.0h0M1533.5 408.0h0M1543.5 400.6h0M1546.5 394.5h0M1547.1 406.2h0M1550.6 398.7h0M1551.7 403.9h0M1552.6 392.9h0M1557.4 398.3h0M1558.0 392.7h0M1563.5 391.1h0M1564.2 399.3h0M1564.9 405.2h0M1569.4 409.9h0M1574.2 396.5h0M1581.4 408.3h0M1586.4 399.5h0M1595.1 395.8h0M1597.0 408.8h0M1597.1 391.1h0M1603.6 401.1h0M1611.1 408.9h0M1617.7 409.1h0M1618.6 397.7h0M1619.7 391.5h0M1621.7 402.2h0M1628.2 409.9h0M1628.3 398.7h0M1635.1 401.6h0M1642.3 391.6h0M743.7 424.0h0M751.1 411.4h0M757.3 425.8h0M770.1 423.0h0M770.6 417.9h0M775.1 424.0h0M787.0 421.8h0M789.8 413.4h0M795.7 429.7h0M801.1 424.8h0M807.7 426.9h0M807.7 413.9h0M815.4 414.5h0M818.7 426.6h0M819.4 418.7h0M821.4 413.1h0M825.7 425.0h0M828.0 415.8h0M829.1 410.1h0M847.6 426.2h0M850.9 421.2h0M855.6 418.9h0M860.8 421.2h0M870.3 427.6h0M883.2 428.6h0M884.9 418.5h0M886.7 412.3h0M891.3 427.5h0M892.0 417.9h0M898.6 424.0h0M904.8 412.2h0M909.5 428.7h0M910.3 411.4h0M915.1 423.7h0M921.6 423.7h0M921.8 429.7h0M922.9 416.8h0M929.3 419.8h0M936.7 410.5h0M943.8 411.9h0M954.0 425.5h0M955.7 414.6h0M970.9 428.3h0M974.5 413.4h0M994.4 418.6h0M1001.1 424.1h0M1004.9 416.9h0M1013.2 411.0h0M1014.5 416.6h0M1022.3 424.8h0M1028.2 421.5h0M1044.3 411.0h0M1051.3 412.1h0M1054.6 422.1h0M1057.5 417.5h0M1096.4 411.0h0M1313.6 414.3h0M1537.9 410.6h0M1550.3 412.3h0M1562.8 421.7h0M1570.6 415.7h0M1576.1 424.4h0M1577.1 416.5h0M1583.2 422.6h0M1585.7 413.3h0M1588.7 417.8h0M1597.5 416.3h0M1598.9 422.1h0M1610.5 424.8h0M1612.6 419.9h0M1616.6 416.7h0M1638.2 422.2h0M1641.1 417.6h0M1644.4 423.0h0M1650.5 424.2h0M394.2 449.3h0M733.2 445.7h0M734.6 433.4h0M747.5 432.5h0M751.4 444.9h0M754.2 440.4h0M760.9 431.3h0M760.9 442.8h0M765.0 435.9h0M767.6 430.0h0M773.2 444.3h0M774.7 437.0h0M780.2 437.0h0M782.7 442.8h0M785.6 448.5h0M791.0 446.7h0M793.8 437.5h0M801.0 430.1h0M810.8 446.8h0M815.9 437.8h0M829.8 432.7h0M837.8 433.5h0M841.8 440.9h0M842.8 432.0h0M846.5 439.0h0M857.6 448.1h0M858.1 436.2h0M862.7 440.1h0M866.3 449.8h0M867.9 436.4h0M872.7 447.9h0M874.0 437.2h0M875.3 430.9h0M879.2 449.5h0M880.6 434.5h0M888.5 432.7h0M889.5 444.1h0M903.0 432.1h0M905.0 438.8h0M906.2 443.7h0M913.7 432.7h0M914.2 439.5h0M923.5 437.2h0M924.4 450.0h0M933.7 447.4h0M939.1 439.6h0M941.4 433.0h0M944.7 441.2h0M948.5 435.7h0M956.7 441.9h0M961.8 431.2h0M964.7 438.3h0M967.6 433.5h0M967.7 443.9h0M971.5 437.3h0M975.4 432.6h0M978.9 445.3h0M993.2 443.1h0M996.0 435.3h0M1002.9 431.0h0M1003.3 436.8h0M1015.5 432.4h0M1016.8 449.1h0M1020.8 430.5h0M1035.1 433.5h0M1061.3 443.7h0M1379.9 442.0h0M1388.1 440.6h0M1389.5 444.7h0M1395.1 430.9h0M1406.1 433.7h0M1408.9 436.4h0M1439.2 442.6h0M1445.0 443.0h0M1450.3 448.9h0M1451.7 444.7h0M1565.3 434.4h0M1570.7 444.3h0M1588.0 438.6h0M1592.6 435.7h0M1603.2 447.3h0M1646.2 444.7h0M1648.2 430.3h0M354.7 468.8h0M361.1 469.5h0M361.2 464.1h0M375.2 453.7h0M388.7 450.2h0M393.2 454.9h0M402.1 451.5h0M404.7 456.0h0M409.1 450.4h0M413.9 452.4h0M745.6 455.4h0M747.3 467.1h0M747.7 460.8h0M750.7 450.9h0M751.6 455.9h0M757.3 466.9h0M760.5 456.6h0M764.0 463.5h0M766.8 456.2h0M767.5 469.0h0M773.1 453.6h0M775.4 467.7h0M775.5 458.5h0M782.8 453.2h0M791.8 459.5h0M795.6 463.7h0M797.2 458.8h0M803.6 450.9h0M807.2 455.6h0M810.2 462.9h0M816.7 459.5h0M816.8 469.1h0M819.4 453.8h0M823.0 464.7h0M824.8 459.2h0M832.4 451.7h0M835.4 459.6h0M838.7 454.5h0M840.0 462.6h0M846.3 461.4h0M848.2 454.3h0M858.8 461.4h0M866.0 464.5h0M870.3 455.6h0M888.1 461.6h0M900.5 457.3h0M902.8 469.8h0M914.9 466.2h0M922.9 459.7h0M930.9 466.8h0M939.1 456.0h0M939.9 461.2h0M944.7 454.7h0M946.7 461.1h0M948.4 466.4h0M952.0 455.1h0M970.7 459.7h0M974.0 450.1h0M983.7 458.5h0M983.8 464.9h0M993.9 454.7h0M994.7 467.7h0M1006.6 453.3h0M1027.6 463.3h0M1029.3 458.2h0M1038.8 467.8h0M1046.9 454.1h0M1052.9 452.9h0M1064.7 461.0h0M1472.4 458.5h0M1476.5 461.3h0M1480.7 464.0h0M1486.2 467.5h0M1554.9 456.9h0M1558.2 461.9h0M1568.8 465.5h0M1572.7 469.2h0M1577.0 461.3h0M1586.8 457.8h0M1589.8 469.9h0M1593.1 459.0h0M1598.4 456.0h0M1598.6 467.0h0M1606.2 455.3h0M1609.9 461.6h0M1613.6 456.9h0M1613.9 451.5h0M1620.9 464.8h0M1627.0 457.9h0M1639.4 462.0h0M1639.4 467.5h0M1640.3 455.0h0M1649.1 463.9h0M1652.3 451.2h0M1652.3 457.5h0M1659.8 469.0h0M362.8 478.2h0M367.7 481.4h0M370.0 476.6h0M381.6 484.5h0M387.7 489.6h0M396.8 477.0h0M402.0 477.0h0M410.3 483.9h0M416.0 477.9h0M422.5 478.4h0M428.1 487.3h0M750.1 476.7h0M751.3 471.8h0M752.8 481.7h0M755.2 488.9h0M756.2 472.9h0M772.2 478.6h0M772.4 473.2h0M775.6 489.3h0M779.4 471.5h0M780.5 486.5h0M781.8 481.1h0M784.1 475.6h0M800.2 487.4h0M801.8 477.6h0M804.8 471.8h0M806.1 482.2h0M809.7 488.0h0M812.6 480.9h0M818.2 484.3h0M822.4 471.9h0M823.6 486.2h0M827.5 470.1h0M828.5 484.7h0M831.8 475.6h0M832.0 489.1h0M836.1 485.0h0M841.2 481.1h0M852.0 477.2h0M852.2 489.5h0M862.3 479.3h0M870.8 473.6h0M887.3 471.1h0M887.6 477.4h0M906.1 488.6h0M908.4 482.0h0M910.9 474.9h0M916.3 477.5h0M922.7 471.0h0M926.8 475.4h0M932.6 479.9h0M942.8 470.6h0M967.7 486.6h0M969.8 478.0h0M984.1 479.4h0M987.6 484.7h0M1000.1 470.2h0M1000.3 489.6h0M1004.4 479.9h0M1004.7 486.4h0M1005.6 471.4h0M1009.2 481.6h0M1012.6 472.2h0M1015.7 476.7h0M1022.7 482.0h0M1033.8 483.3h0M1037.5 479.8h0M1555.6 479.1h0M1564.8 470.8h0M1572.8 490.0h0M1581.7 477.7h0M1582.2 489.0h0M1588.2 475.9h0M1589.2 488.1h0M1596.4 480.2h0M1602.0 482.4h0M1605.6 488.4h0M1614.9 471.5h0M1616.9 480.9h0M1619.6 476.7h0M1620.8 484.4h0M1627.6 478.8h0M1631.6 488.3h0M1639.8 485.5h0M1642.7 474.2h0M1643.5 489.5h0M1647.8 477.0h0M1648.1 471.6h0M1653.8 472.9h0M1655.5 488.0h0M1657.5 480.1h0M342.2 507.4h0M353.4 493.9h0M357.3 501.9h0M370.8 507.3h0M375.5 492.9h0M378.2 497.8h0M380.6 504.9h0M393.8 505.3h0M404.9 507.4h0M406.4 493.7h0M414.9 494.0h0M434.7 504.9h0M764.0 492.1h0M766.1 499.3h0M769.7 490.8h0M771.5 504.3h0M780.3 492.1h0M781.7 509.0h0M785.3 495.2h0M791.9 493.1h0M799.2 497.8h0M803.4 494.1h0M809.8 498.3h0M812.0 506.8h0M831.3 496.1h0M831.8 508.0h0M837.5 505.1h0M839.6 498.5h0M841.2 492.7h0M842.6 504.5h0M862.3 494.0h0M865.9 505.8h0M876.0 509.9h0M888.4 499.0h0M892.0 491.7h0M897.0 503.3h0M898.4 494.1h0M900.6 499.4h0M907.1 501.9h0M913.2 491.9h0M914.4 497.2h0M919.6 498.8h0M924.7 497.5h0M925.3 504.7h0M925.4 490.8h0M929.5 501.6h0M934.6 501.3h0M947.6 497.1h0M952.8 493.5h0M958.6 491.3h0M964.5 493.1h0M971.2 491.5h0M977.3 499.2h0M980.6 494.9h0M991.0 498.2h0M994.5 492.6h0M996.1 501.7h0M998.1 496.9h0M1012.5 497.9h0M1020.7 502.3h0M1034.1 491.5h0M1044.5 500.5h0M1047.0 509.7h0M1051.1 500.0h0M1237.6 500.6h0M1263.9 509.6h0M1556.9 503.3h0M1563.0 503.9h0M1575.3 503.4h0M1576.6 508.9h0M1585.0 503.6h0M1589.6 495.5h0M1589.6 500.9h0M1601.0 499.8h0M1603.9 493.3h0M1606.7 508.5h0M1611.1 501.7h0M1612.2 508.0h0M1616.3 494.8h0M1621.8 497.3h0M1627.2 499.4h0M1628.2 492.9h0M1632.0 502.8h0M1637.6 497.8h0M1639.9 504.0h0M1648.9 506.0h0M1656.0 501.0h0M1661.2 500.1h0M1671.2 507.8h0M344.9 524.9h0M362.1 512.1h0M362.5 525.2h0M366.0 518.7h0M369.2 513.2h0M377.0 520.8h0M385.9 515.9h0M389.5 524.2h0M402.8 518.4h0M430.6 512.9h0M431.8 525.4h0M438.6 511.0h0M767.4 511.0h0M776.7 520.1h0M781.8 518.7h0M785.3 512.6h0M788.0 517.1h0M793.7 511.8h0M804.3 522.6h0M810.2 520.8h0M810.9 515.8h0M816.1 520.2h0M819.6 523.9h0M825.2 521.1h0M834.5 518.7h0M841.4 510.7h0M846.4 510.2h0M888.2 519.2h0M890.4 512.0h0M900.3 516.9h0M910.1 514.1h0M911.7 528.0h0M914.4 520.9h0M928.8 523.9h0M940.9 518.1h0M946.9 515.0h0M967.0 517.3h0M977.0 523.4h0M980.7 527.3h0M982.1 513.9h0M995.7 522.5h0M997.7 517.2h0M1007.6 524.9h0M1014.4 517.3h0M1279.0 517.9h0M1285.3 523.4h0M1550.6 524.7h0M1552.8 518.1h0M1557.4 527.0h0M1562.9 515.7h0M1572.8 529.6h0M1582.3 521.1h0M1589.7 525.2h0M1596.7 528.4h0M1600.6 513.8h0M1608.3 513.4h0M1610.1 518.8h0M1613.9 527.4h0M1615.2 516.1h0M1641.3 516.0h0M1646.8 511.4h0M1661.5 514.6h0M1666.7 524.4h0M1671.9 521.7h0M1677.0 526.3h0M324.9 549.1h0M338.0 539.8h0M344.5 530.2h0M365.3 542.5h0M370.2 541.2h0M377.3 543.9h0M410.0 539.0h0M427.0 530.1h0M435.8 540.1h0M443.1 537.3h0M455.2 546.0h0M456.3 536.3h0M470.4 544.2h0M492.3 536.7h0M925.1 530.7h0M931.5 534.0h0M948.4 534.9h0M958.4 536.2h0M965.9 532.1h0M973.1 537.0h0M982.1 534.5h0M1533.3 543.5h0M1541.7 549.4h0M1548.3 547.6h0M1560.7 546.4h0M1563.2 536.1h0M1566.1 540.6h0M1573.6 541.1h0M1574.9 549.5h0M1580.4 543.9h0M1585.2 541.5h0M1585.5 548.0h0M1591.8 546.4h0M1595.5 537.9h0M1597.8 545.2h0M1600.6 539.7h0M1602.4 549.0h0M1604.9 536.7h0M1605.6 544.7h0M1616.3 544.0h0M1616.7 535.9h0M1620.8 547.3h0M1625.9 546.9h0M1630.2 542.0h0M1632.5 532.4h0M1640.9 541.2h0M1652.5 533.8h0M1657.4 545.6h0M1674.8 545.8h0M1674.9 533.4h0M1678.7 538.0h0M1681.3 549.1h0M1688.7 539.7h0M346.8 567.2h0M352.8 566.8h0M358.5 564.8h0M361.9 559.2h0M364.2 550.6h0M378.2 550.9h0M392.4 554.4h0M431.4 557.5h0M432.2 563.0h0M439.9 569.4h0M440.1 562.1h0M445.1 561.0h0M448.2 554.3h0M451.2 559.9h0M455.8 562.3h0M457.5 551.2h0M472.9 565.2h0M478.3 563.9h0M484.4 562.2h0M487.1 566.9h0M489.7 562.4h0M495.0 556.8h0M1566.4 565.1h0M1566.8 552.7h0M1581.0 550.6h0M1581.8 557.1h0M1587.0 558.5h0M1588.8 563.9h0M1591.4 555.4h0M1595.0 566.0h0M1596.3 553.5h0M1601.4 557.5h0M1603.5 567.6h0M1607.4 556.5h0M1607.7 551.0h0M1613.2 566.1h0M1615.4 550.3h0M1618.2 554.9h0M1619.2 559.9h0M1626.3 561.4h0M1632.5 568.8h0M1633.0 550.3h0M1635.6 558.8h0M1641.8 559.0h0M1649.3 555.7h0M1662.2 561.6h0M1664.9 553.2h0M1671.2 551.9h0M1675.5 564.8h0M1676.6 551.0h0M1676.7 558.1h0M1680.0 568.2h0M321.6 575.9h0M332.3 573.9h0M373.6 570.4h0M379.5 572.7h0M383.5 583.2h0M388.0 579.0h0M391.0 588.9h0M395.9 579.2h0M403.9 576.3h0M409.4 577.8h0M413.3 580.9h0M416.3 588.8h0M418.8 581.7h0M436.5 583.5h0M438.2 577.4h0M445.0 585.6h0M450.3 589.0h0M463.8 583.4h0M471.7 577.2h0M472.0 589.0h0M477.0 578.1h0M1563.7 574.7h0M1566.1 579.2h0M1575.0 575.5h0M1579.0 571.2h0M1580.9 582.3h0M1583.9 573.1h0M1584.8 579.2h0M1585.8 588.6h0M1591.6 575.9h0M1599.4 585.3h0M1607.7 571.9h0M1609.7 587.0h0M1612.8 581.9h0M1621.4 575.3h0M1628.0 574.1h0M1630.0 589.4h0M1637.4 571.4h0M1643.7 587.7h0M1645.1 581.0h0M1649.8 585.3h0M1652.8 579.1h0M1659.2 580.8h0M1660.9 575.5h0M1666.3 576.0h0M1673.1 571.4h0M336.7 599.1h0M352.2 598.2h0M364.9 605.0h0M370.4 605.4h0M394.0 601.1h0M395.6 595.4h0M404.0 595.4h0M406.2 603.2h0M424.0 591.1h0M434.2 593.5h0M438.2 600.8h0M439.5 593.1h0M446.6 592.4h0M463.0 597.4h0M471.2 607.9h0M474.7 598.9h0M485.9 593.5h0M486.0 606.8h0M1600.7 590.7h0M1621.3 595.3h0M1625.1 591.9h0M413.9 611.0h0M428.6 623.2h0M437.1 613.0h0M440.8 617.4h0M442.7 623.4h0M449.8 623.8h0M452.7 628.0h0M457.9 629.9h0M458.6 619.5h0M468.6 627.3h0M463.5 630.1h0M478.8 630.5h0M1318.6 644.5h0M1321.7 633.4h0M1327.8 639.6h0M1328.3 634.1h0M1332.1 642.6h0M1340.7 638.3h0M1345.2 640.5h0M1277.1 666.2h0M1292.5 658.2h0M1318.0 657.2h0M1326.5 655.0h0M1330.4 664.5h0M1337.6 665.4h0M1339.1 654.1h0M1340.8 660.3h0M1343.6 664.6h0M1344.7 654.1h0M1348.2 657.8h0M1350.6 662.8h0M1355.8 667.1h0M1232.0 684.0h0M1236.1 679.2h0M1254.0 681.2h0M1254.7 671.7h0M1259.3 687.1h0M1261.7 682.6h0M1267.8 689.5h0M1272.3 670.9h0M1297.8 672.0h0M1304.8 690.0h0M1308.3 675.1h0M1313.8 676.9h0M1318.0 680.2h0M1334.6 673.5h0M1334.9 678.8h0M1340.1 675.3h0M1347.6 670.7h0M1355.9 688.8h0M1361.6 683.2h0M1362.2 677.4h0M1209.2 700.9h0M1222.0 694.0h0M1239.8 691.2h0M1240.2 707.2h0M1244.9 701.7h0M1262.2 704.4h0M1266.6 695.8h0M1268.1 700.6h0M1272.9 690.1h0M1281.6 695.8h0M1286.6 696.4h0M1294.7 710.0h0M1295.5 695.5h0M1309.5 694.7h0M1315.8 703.2h0M1315.9 692.2h0M1320.0 708.5h0M1325.0 690.7h0M1331.1 700.1h0M1334.4 693.6h0M1339.2 699.6h0M1346.1 695.8h0M1348.2 691.2h0M1348.4 707.8h0M1361.2 701.3h0M1362.0 696.1h0M1374.0 705.6h0M1205.8 728.6h0M1236.5 720.6h0M1242.2 718.2h0M1245.7 710.6h0M1249.6 718.6h0M1251.0 711.5h0M1256.1 715.0h0M1261.1 711.3h0M1275.1 718.5h0M1281.1 712.2h0M1294.7 715.3h0M1321.3 715.4h0M1324.1 722.6h0M1329.7 720.9h0M1332.2 714.3h0M1339.3 715.7h0M1345.8 723.3h0M1349.8 727.0h0M1355.9 711.6h0M1361.1 712.3h0M1364.4 726.5h0M1374.8 722.8h0M1379.6 718.9h0M1380.5 724.8h0M303.0 743.0h0M1178.6 746.6h0M1180.4 740.6h0M1183.4 749.4h0M1189.2 746.0h0M1190.5 740.7h0M1194.8 736.3h0M1195.4 744.3h0M1195.8 730.5h0M1200.5 747.5h0M1208.3 736.2h0M1237.3 734.4h0M1247.9 732.9h0M1265.8 734.7h0M1279.9 744.6h0M1281.6 735.3h0M1286.6 746.4h0M1300.1 737.9h0M1302.4 745.2h0M1309.3 739.1h0M1314.4 741.5h0M1322.3 731.1h0M1327.6 740.4h0M1330.8 733.1h0M1333.1 745.3h0M1336.1 740.2h0M1344.6 745.3h0M1348.0 732.1h0M1351.6 735.7h0M1353.8 742.2h0M1357.8 749.2h0M1358.9 730.1h0M1367.9 731.3h0M1373.1 745.9h0M1373.1 730.1h0M1185.3 759.9h0M1187.2 769.6h0M1200.3 763.8h0M1209.6 759.3h0M1215.4 760.7h0M1228.4 767.5h0M1237.9 763.8h0M1241.5 768.6h0M1248.8 751.0h0M1252.7 754.5h0M1256.0 759.1h0M1265.0 761.6h0M1272.9 764.4h0M1276.7 750.2h0M1287.3 762.2h0M1298.1 762.7h0M1298.3 750.3h0M1318.5 765.3h0M1321.1 756.3h0M1335.6 762.4h0M1337.5 757.1h0M1346.3 750.1h0M1352.0 750.6h0M1355.1 755.6h0M1361.0 757.5h0M1370.2 766.5h0M1372.3 755.1h0M1377.2 757.5h0M1378.2 750.7h0M1382.4 757.5h0M903.0 789.0h0M910.7 783.7h0M1199.8 777.8h0M1215.3 779.6h0M1224.7 783.0h0M1261.7 789.9h0M1272.6 785.5h0M1276.3 778.1h0M1278.5 770.0h0M1282.6 773.0h0M1286.9 785.2h0M1288.5 773.3h0M1292.7 770.5h0M1311.6 775.5h0M1313.9 780.9h0M1317.7 776.0h0M1320.6 770.3h0M1335.7 782.5h0M1339.1 770.8h0M1341.2 777.8h0M1352.0 771.7h0M1354.5 789.1h0M1378.4 772.7h0M1381.4 785.2h0M890.0 799.7h0M901.3 797.0h0M906.7 791.7h0M1246.9 793.7h0M1260.7 795.7h0M1283.7 791.4h0M1288.5 802.3h0M1297.8 796.8h0M1330.9 795.3h0M1337.2 800.8h0M1339.6 790.7h0M1340.8 797.1h0M1352.5 793.8h0M1364.8 802.4h0M1369.8 793.3h0M1375.7 796.8h0M1376.5 804.5h0M1381.4 795.4h0M1383.5 803.8h0M1391.4 800.1h0M645.1 826.5h0M650.3 827.1h0M668.5 822.9h0M672.0 827.0h0M1372.1 815.8h0M1633.5 814.2h0M1636.0 823.5h0M1644.0 829.7h0M1652.1 822.9h0M1662.0 826.0h0M1668.0 828.0h0M1672.0 825.0h0M1676.2 825.3h0M1684.9 821.6h0M1685.5 829.0h0M1700.0 828.0h0M1715.0 828.0h0M624.3 848.3h0M636.8 838.1h0M647.2 839.2h0M650.2 833.9h0M653.1 841.1h0M655.7 831.0h0M657.0 837.2h0M662.1 848.8h0M662.5 831.8h0M668.3 844.4h0M671.0 839.5h0M674.2 849.3h0M676.7 836.8h0M680.8 844.8h0M683.9 839.5h0M687.0 847.6h0M688.0 833.4h0M694.0 842.1h0M694.6 833.4h0M696.3 849.1h0M722.9 831.1h0M749.1 849.0h0M759.0 845.9h0M763.3 849.5h0M767.6 840.6h0M795.7 830.2h0M811.2 847.2h0M822.8 832.2h0M832.7 831.0h0M835.1 845.8h0M853.9 844.4h0M890.0 845.7h0M1658.0 833.0h0M1669.4 835.2h0M1678.0 845.0h0M1680.0 830.0h0M1682.4 840.8h0M1688.0 848.0h0M1690.0 838.0h0M1694.2 832.2h0M1694.8 840.8h0M1700.0 845.0h0M1703.0 842.0h0M1705.0 850.0h0M1706.5 830.9h0M1708.0 838.0h0M1710.0 840.0h0M1715.2 846.4h0M1718.9 833.4h0M625.0 857.5h0M625.3 862.8h0M630.5 856.0h0M636.0 855.3h0M667.5 858.6h0M671.1 854.6h0M671.8 869.4h0M677.3 865.6h0M691.8 851.7h0M707.5 869.0h0M721.9 854.6h0M723.6 863.0h0M745.9 855.7h0M751.0 865.5h0M771.5 857.8h0M772.7 851.4h0M803.4 868.1h0M809.7 865.8h0M820.3 868.0h0M827.9 855.1h0M829.5 864.5h0M831.6 851.3h0M837.2 853.1h0M837.5 863.9h0M842.5 868.8h0M846.3 865.0h0M904.7 857.7h0M1685.0 855.0h0M1686.7 865.0h0M1690.0 852.0h0M1692.9 860.0h0M1695.0 868.0h0M1697.0 860.0h0M1701.6 856.9h0M1709.6 860.6h0M1714.0 852.0h0M614.8 872.9h0M627.5 875.4h0M656.9 880.9h0M658.2 873.1h0M671.8 879.3h0M679.2 887.0h0M682.3 881.0h0M692.5 873.2h0M710.0 889.2h0M710.7 873.9h0M716.8 885.3h0M725.5 875.5h0M735.1 885.2h0M773.0 887.6h0M785.9 872.1h0M792.3 882.8h0M797.5 879.4h0M874.1 875.5h0M905.8 873.8h0M919.0 879.2h0M619.1 901.3h0M629.1 904.8h0M630.2 897.9h0M644.2 894.7h0M671.6 908.6h0M676.3 905.2h0M714.6 892.7h0M729.9 900.2h0M742.0 902.7h0M742.4 909.7h0M749.0 894.0h0M750.5 908.8h0M755.0 892.1h0M766.2 897.5h0M767.1 904.8h0M774.1 908.8h0M774.9 903.6h0M803.8 902.0h0M822.0 902.9h0M824.7 891.0h0M835.2 895.2h0M840.4 898.2h0M875.0 894.7h0M887.6 897.1h0M911.6 891.2h0M947.3 909.7h0M613.5 917.7h0M619.0 914.5h0M629.9 911.8h0M651.0 914.2h0M670.0 923.1h0M682.9 915.1h0M683.7 923.6h0M684.9 928.9h0M689.6 924.9h0M700.6 913.6h0M703.0 927.0h0M703.7 919.3h0M707.6 911.5h0M714.1 927.9h0M721.2 918.7h0M721.5 929.4h0M730.0 913.5h0M746.7 925.7h0M755.1 913.3h0M759.5 925.7h0M765.0 926.7h0M796.1 923.8h0M809.6 914.2h0M809.8 929.1h0M812.9 918.0h0M819.4 920.3h0M833.2 915.6h0M839.4 916.1h0M890.6 910.1h0M611.6 936.9h0M626.0 938.5h0M638.1 944.0h0M659.2 939.6h0M661.1 947.3h0M712.3 949.4h0M723.6 942.8h0M725.2 948.9h0M730.0 937.3h0M735.3 949.4h0M748.8 939.3h0M754.0 943.1h0M768.4 931.3h0M774.9 939.6h0M785.3 941.5h0M787.6 933.3h0M799.8 934.4h0M816.9 933.0h0M617.7 950.5h0M631.3 962.0h0M632.1 952.9h0M661.0 956.9h0M676.6 958.2h0M690.2 963.0h0M697.1 954.9h0M703.1 956.1h0M710.3 963.6h0M721.3 965.0h0M726.6 968.1h0M727.7 959.7h0M750.3 965.8h0M641.6 970.2h0M643.2 975.0h0M654.6 978.2h0M662.0 978.3h0M664.1 985.4h0M683.8 980.7h0M696.8 989.3h0M713.1 978.8h0M719.2 974.5h0M719.9 988.2h0M735.6 971.0h0M738.8 976.4h0M688.5 998.2h0M1142.2 1005.8h0M1147.4 1004.0h0M1156.6 1004.0h0M1190.8 1007.0h0M1202.1 1009.4h0M1210.8 997.4h0M1219.2 1006.3h0M1223.7 998.2h0M1238.0 999.3h0M1240.4 1005.1h0M1246.9 1009.4h0M1248.0 994.6h0M1256.0 1005.7h0M1261.0 1000.1h0M1266.9 1003.0h0M1138.9 1025.3h0M1149.2 1023.3h0M1162.6 1012.6h0M1174.0 1027.3h0M1180.9 1017.3h0M1186.3 1011.7h0M1193.2 1014.6h0M1196.5 1010.7h0M1202.3 1029.6h0M1205.1 1015.7h0M1220.4 1027.5h0M1226.2 1016.5h0M1230.9 1022.3h0M1232.1 1017.2h0M1237.9 1018.7h0M1245.3 1018.9h0M1250.5 1023.2h0M1252.7 1013.8h0M1258.3 1016.8h0M1265.2 1029.9h0M1267.6 1017.0h0M1271.6 1012.2h0M1274.5 1019.5h0M1602.0 1025.3h0M1095.7 1039.2h0M1110.3 1035.7h0M1123.2 1042.8h0M1131.1 1043.8h0M1139.7 1030.7h0M1141.3 1046.4h0M1184.1 1036.1h0M1190.4 1042.2h0M1192.9 1035.0h0M1198.6 1048.4h0M1203.8 1041.4h0M1210.3 1038.5h0M1213.9 1045.5h0M1222.0 1039.2h0M1227.2 1045.3h0M1227.8 1037.8h0M1232.2 1046.6h0M1250.4 1049.7h0M1257.8 1040.2h0M1258.0 1034.2h0M1283.8 1037.3h0M1594.3 1041.8h0M1621.8 1039.6h0M1062.2 1063.7h0M1079.5 1055.0h0M1087.2 1062.6h0M1133.3 1064.1h0M1137.2 1053.4h0M1154.5 1054.9h0M1159.9 1053.5h0M1162.6 1064.8h0M1165.3 1054.3h0M1176.7 1053.0h0M1187.5 1056.1h0M1194.0 1056.9h0M1196.4 1062.2h0M1197.9 1068.0h0M1201.7 1061.9h0M1202.2 1056.1h0M1215.3 1064.8h0M1215.9 1058.9h0M1216.7 1053.4h0M1216.9 1069.7h0M1220.9 1058.0h0M1233.9 1062.0h0M1237.7 1055.7h0M1239.2 1064.3h0M1242.4 1050.9h0M1244.5 1068.2h0M1245.3 1058.7h0M1248.2 1054.3h0M1258.7 1061.6h0M1259.7 1068.4h0M1260.0 1051.6h0M1266.6 1061.0h0M1272.2 1069.5h0M1284.8 1060.7h0M1288.9 1068.6h0M1297.0 1068.9h0M1066.0 1079.6h0M1080.6 1076.8h0M1097.8 1088.0h0M1141.4 1072.1h0M1158.6 1070.7h0M1163.4 1080.7h0M1186.6 1078.1h0M1190.2 1072.1h0M1196.4 1083.2h0M1205.5 1082.6h0M1207.9 1089.4h0M1208.0 1077.4h0M1213.5 1074.3h0M1216.3 1080.2h0M1222.4 1075.8h0M1223.4 1081.6h0M1228.3 1084.4h0M1233.2 1075.6h0M1237.5 1070.0h0M1239.0 1080.9h0M1242.8 1073.0h0M1258.4 1088.6h0M1259.9 1080.9h0M1264.2 1077.0h0M1264.8 1083.2h0M1276.5 1084.4h0M1284.9 1088.1h0M1287.8 1074.7h0M1290.7 1086.8h0M1293.0 1074.0h0M1294.4 1083.2h0M1305.0 1074.6h0M1309.6 1076.8h0M1316.6 1078.5h0M1034.6 1098.9h0M1172.4 1108.6h0M1182.7 1093.8h0M1195.2 1102.8h0M1198.7 1097.4h0M1200.2 1103.7h0M1220.2 1095.5h0M1230.2 1091.9h0M1238.8 1098.5h0M1241.2 1092.6h0M1244.6 1105.2h0M1247.5 1099.6h0M1249.9 1093.8h0M1252.3 1103.2h0M1254.7 1097.8h0M1261.5 1099.4h0M1263.4 1090.3h0M1270.4 1092.6h0M1276.8 1090.0h0M1278.5 1109.4h0M1281.5 1093.5h0M1297.1 1104.4h0M1304.2 1091.7h0M1308.4 1109.7h0M1313.1 1102.4h0M1314.1 1107.5h0M1330.0 1095.1h0M1020.0 1116.4h0M1039.4 1129.7h0M1043.6 1125.8h0M1062.0 1126.2h0M1067.7 1124.8h0M1086.9 1126.4h0M1098.3 1117.0h0M1131.4 1120.8h0M1166.4 1115.6h0M1175.0 1124.2h0M1201.4 1123.5h0M1205.6 1111.9h0M1207.2 1118.8h0M1210.4 1122.7h0M1211.6 1115.8h0M1215.5 1121.7h0M1219.1 1126.1h0M1219.4 1117.1h0M1240.8 1129.6h0M1242.2 1110.6h0M1243.8 1115.4h0M1245.5 1124.5h0M1260.8 1117.7h0M1278.2 1129.7h0M1282.3 1125.6h0M1283.0 1120.0h0M1302.4 1125.6h0M1311.7 1121.5h0M1315.7 1116.8h0M1318.3 1126.4h0M1321.8 1115.4h0M1322.4 1120.7h0M1323.5 1110.6h0M1326.9 1118.0h0M1330.4 1112.7h0M1023.1 1130.4h0M1044.1 1141.3h0M1070.2 1147.5h0M1073.3 1132.9h0M1113.3 1148.1h0M1113.9 1145.8h0M1128.7 1148.1h0M1132.5 1130.9h0M1165.7 1144.4h0M1198.9 1131.7h0M1208.3 1134.4h0M1218.2 1143.8h0M1220.1 1137.9h0M1220.6 1131.6h0M1234.7 1133.5h0M1236.8 1139.4h0M1240.5 1146.6h0M1243.6 1135.8h0M1247.5 1143.8h0M1249.1 1134.8h0M1251.8 1139.9h0M1253.2 1145.1h0M1256.8 1138.5h0M1260.3 1133.8h0M1273.0 1132.9h0M1278.0 1143.3h0M1282.3 1139.9h0M1282.4 1147.1h0M1292.4 1147.3h0M1297.6 1132.7h0M1312.4 1136.8h0M1317.3 1131.9h0M1323.5 1130.6h0M1034.4 1150.6h0M1070.6 1161.2h0M1091.2 1161.3h0M1103.4 1169.5h0M1110.5 1159.4h0M1119.4 1163.3h0M1120.9 1169.4h0M1127.1 1169.6h0M1136.7 1162.9h0M1193.7 1159.6h0M1195.3 1154.0h0M1200.2 1152.7h0M1205.1 1153.9h0M1218.2 1153.6h0M1220.2 1160.2h0M1225.2 1152.4h0M1238.3 1160.5h0M1240.6 1153.5h0M1251.9 1158.1h0M1253.9 1151.0h0M1260.0 1154.6h0M1266.0 1156.0h0M1270.5 1153.4h0M1042.2 1184.2h0M1080.1 1187.0h0M1098.1 1188.0h0M1102.4 1174.6h0M1102.9 1182.2h0M1133.1 1180.1h0M1139.3 1175.5h0M1044.3 1197.2h0M1046.9 1203.3h0M1059.5 1204.1h0M1061.9 1193.5h0M1076.2 1198.1h0M1076.4 1192.9h0M1081.4 1194.1h0M1085.9 1197.1h0M1088.4 1190.7h0" stroke="#992d80" stroke-width="10.40" stroke-linecap="round" fill="none"/><path d="M947.9 224.0h0M1028.2 228.0h0M1052.2 223.0h0M928.8 237.2h0M931.6 244.9h0M959.1 247.1h0M866.2 262.6h0M879.6 268.5h0M929.3 258.2h0M846.2 281.3h0M872.5 283.0h0M891.0 285.3h0M923.0 285.7h0M948.4 280.7h0M1522.8 283.5h0M1537.9 284.8h0M1586.3 283.2h0M824.4 302.5h0M1003.8 299.6h0M1045.6 296.7h0M1051.6 300.2h0M1524.8 296.1h0M1524.9 302.3h0M1544.2 293.7h0M1502.2 324.6h0M1554.6 315.1h0M1616.7 325.6h0M814.8 342.1h0M839.6 340.0h0M852.5 344.3h0M975.1 344.6h0M1092.4 349.4h0M1548.4 334.0h0M1580.9 337.0h0M1598.7 332.1h0M788.6 368.4h0M885.1 356.5h0M905.0 350.3h0M905.4 368.9h0M905.4 358.5h0M966.5 359.9h0M1000.2 354.7h0M1018.9 361.1h0M1050.2 362.5h0M1115.2 360.1h0M1534.7 351.3h0M1584.9 359.4h0M844.5 382.3h0M899.6 380.8h0M939.5 370.4h0M963.9 376.0h0M979.0 387.7h0M1078.1 384.6h0M1635.5 370.2h0M753.2 405.1h0M755.4 393.2h0M763.6 403.1h0M780.2 400.2h0M919.1 399.6h0M953.9 391.2h0M1000.8 401.4h0M1019.6 404.7h0M1128.6 403.0h0M1527.6 406.6h0M1579.1 393.4h0M1623.4 407.1h0M761.0 415.2h0M763.7 421.2h0M808.8 418.9h0M813.8 428.3h0M868.9 421.1h0M958.7 410.3h0M959.8 425.0h0M980.7 425.0h0M1544.8 411.5h0M1548.2 417.8h0M1566.7 426.3h0M1618.7 427.0h0M1645.2 413.4h0M755.5 433.1h0M798.4 442.3h0M811.3 435.7h0M1024.6 433.9h0M1025.8 443.1h0M1377.1 447.5h0M1595.5 442.6h0M1599.9 431.6h0M1651.0 439.7h0M390.4 461.5h0M398.7 457.2h0M805.1 466.5h0M956.2 452.1h0M1052.1 467.4h0M384.8 476.5h0M400.4 485.6h0M766.7 480.0h0M846.2 489.7h0M875.1 483.2h0M875.9 489.7h0M950.3 478.6h0M973.6 474.1h0M987.8 475.1h0M992.8 475.4h0M1577.8 472.9h0M1578.1 485.4h0M1591.1 481.6h0M1594.3 488.5h0M1605.6 476.8h0M1628.5 470.2h0M1631.6 474.5h0M364.3 505.0h0M775.3 495.0h0M779.7 502.6h0M953.9 499.3h0M978.6 507.4h0M992.8 507.3h0M1569.2 509.6h0M1616.5 500.4h0M1642.5 498.7h0M1654.7 506.5h0M342.7 516.3h0M380.1 516.7h0M429.5 518.2h0M894.6 517.6h0M933.1 515.7h0M944.5 528.7h0M1002.2 510.4h0M1008.0 519.5h0M1031.0 513.0h0M1573.8 516.4h0M1579.6 528.6h0M1585.6 528.5h0M1599.9 522.8h0M1605.0 521.6h0M1625.0 514.3h0M1633.9 524.0h0M459.1 540.7h0M1557.2 532.9h0M1563.2 530.1h0M1566.9 546.2h0M1567.5 533.2h0M1582.0 533.3h0M1598.8 534.1h0M1611.0 545.1h0M1620.4 530.2h0M1638.8 548.7h0M1647.2 537.6h0M1679.9 533.0h0M336.2 565.4h0M431.3 551.7h0M1546.2 552.8h0M1555.8 558.5h0M1558.4 550.9h0M1561.2 559.5h0M1590.7 569.9h0M1596.3 560.8h0M1614.1 560.0h0M1620.7 566.5h0M1630.7 554.9h0M1645.7 562.4h0M1655.3 556.7h0M1685.1 560.1h0M450.5 579.6h0M1598.5 578.4h0M1601.1 572.8h0M1628.7 579.5h0M1634.8 579.2h0M1636.7 589.2h0M1640.0 584.1h0M383.4 606.2h0M442.2 608.9h0M433.7 624.5h0M456.2 624.1h0M465.7 612.3h0M1330.1 686.7h0M1367.9 687.6h0M1295.1 703.9h0M1326.2 701.1h0M1245.8 722.1h0M1344.6 712.6h0M306.1 744.0h0M1217.3 740.3h0M1310.2 751.7h0M1357.3 760.9h0M896.7 781.0h0M1230.4 785.5h0M1254.8 775.5h0M1278.4 783.8h0M1297.4 789.2h0M873.3 809.7h0M882.7 801.0h0M886.7 793.7h0M890.7 807.0h0M892.0 791.0h0M1312.8 795.9h0M1369.8 800.9h0M1627.0 816.4h0M1648.7 825.6h0M1658.3 827.8h0M638.1 847.2h0M652.0 846.6h0M754.6 848.7h0M783.0 832.2h0M829.4 840.4h0M834.5 838.0h0M882.0 847.0h0M1671.9 831.5h0M1709.0 845.2h0M636.3 862.1h0M716.7 860.2h0M746.3 869.0h0M751.3 854.9h0M758.7 855.9h0M759.2 868.2h0M760.5 861.8h0M824.4 865.0h0M1694.5 850.4h0M650.7 880.0h0M671.2 888.3h0M687.6 889.0h0M697.8 870.5h0M702.4 876.8h0M730.7 877.9h0M739.7 871.7h0M766.5 872.3h0M770.8 876.0h0M787.4 888.8h0M803.1 879.3h0M810.2 890.0h0M862.6 875.7h0M656.5 906.3h0M661.0 895.0h0M690.1 894.2h0M715.4 908.8h0M733.2 894.8h0M735.6 890.4h0M808.7 908.7h0M635.8 926.2h0M660.6 919.6h0M662.8 913.0h0M677.9 910.1h0M678.4 928.3h0M679.1 919.2h0M689.8 911.2h0M716.6 914.3h0M729.9 929.8h0M736.6 929.5h0M775.7 916.0h0M791.0 923.8h0M804.7 912.4h0M847.5 921.5h0M615.8 931.9h0M615.8 940.0h0M673.8 938.0h0M761.8 942.7h0M780.5 936.4h0M782.2 931.2h0M789.4 946.1h0M643.2 965.3h0M664.1 951.6h0M675.6 969.0h0M678.2 950.1h0M681.9 957.0h0M684.8 962.8h0M686.6 953.9h0M698.3 960.1h0M747.6 960.8h0M761.0 951.6h0M765.0 962.1h0M779.2 951.8h0M639.0 977.9h0M648.8 980.4h0M657.6 982.7h0M662.8 973.1h0M667.3 979.7h0M669.7 972.0h0M710.3 974.3h0M673.5 990.7h0M692.2 992.1h0M694.4 997.3h0M701.4 995.6h0M1126.4 1002.5h0M1596.9 1025.7h0M1592.9 1044.0h0M1610.8 1034.5h0M1066.5 1061.0h0M1109.9 1052.7h0M1121.3 1052.2h0M1185.2 1050.3h0M1224.5 1068.2h0M1230.5 1053.8h0M1235.5 1088.7h0M1301.0 1079.3h0M1018.1 1103.1h0M1028.5 1109.4h0M1051.9 1091.8h0M1053.4 1099.6h0M1269.4 1100.7h0M1081.5 1148.0h0M1214.7 1133.7h0M1296.6 1137.8h0M1303.1 1130.7h0M1030.9 1157.1h0M1046.4 1169.6h0M1052.0 1159.8h0M1032.2 1179.8h0M1050.1 1176.4h0M1041.3 1202.3h0M1051.9 1204.4h0M1071.4 1202.5h0M1094.4 1191.5h0" stroke="#f4675c" stroke-width="10.40" stroke-linecap="round" fill="none"/><path d="M1044.0 266.0h0M1062.8 278.8h0M1170.4 322.6h0M958.6 354.7h0M940.2 385.1h0M1139.7 380.0h0M1007.9 391.1h0M843.5 451.0h0M1596.9 450.2h0M1021.0 475.7h0M1611.6 536.7h0M1625.5 539.4h0M1623.1 552.5h0M1669.8 557.4h0M388.5 580.5h0M456.9 577.3h0M452.0 596.4h0M1332.5 636.9h0M900.7 784.3h0M767.7 862.4h0M615.8 894.4h0M750.1 903.3h0M1033.5 1142.8h0" stroke="#feb47b" stroke-width="10.40" stroke-linecap="round" fill="none"/><path d="M750.5 886.8h0M753.4 918.1h0M630.5 941.2h0" stroke="#fcf6b8" stroke-width="10.40" stroke-linecap="round" fill="none"/></g>
<g stroke="#000" stroke-width="4.4" fill="none">
<path d="M222.45 142.5V1304.7M220.2 1302.55H1829"/>
<path d="M208 450H222M208 871H222M208 1292H222M347.5 1304H347.5V1317M868 1304V1317M1389 1304V1317"/>
</g>
<g font-size="50">
<text x="194" y="469" text-anchor="end">10</text>
<text x="194" y="889" text-anchor="end">0</text>
<text x="194" y="1310" text-anchor="end">-10</text>
<text x="347.5" y="1366" text-anchor="middle">-10</text>
<text x="868" y="1366" text-anchor="middle">0</text>
<text x="1389" y="1366" text-anchor="middle">10</text>
</g>
<text x="1020.4" y="1433" font-size="60" text-anchor="middle" textLength="222" lengthAdjust="spacing">UMAP_1</text>
<text transform="translate(92.9 722.7) rotate(-90)" x="0" y="0" font-size="60" text-anchor="middle" textLength="233" lengthAdjust="spacing">UMAP_2</text>
<rect x="1885" y="578" width="64" height="319" fill="url(#mg)"/>
<g stroke="#fff" stroke-width="1.3">
<path d="M1885 581H1898M1936 581H1949M1885 660H1898M1936 660H1949M1885 739H1898M1936 739H1949M1885 818H1898M1936 818H1949M1885 896.5H1898M1936 896.5H1949"/>
</g>
<g font-size="50">
<text x="1978.5" y="599">1.6</text>
<text x="1978.5" y="678">1.2</text>
<text x="1978.5" y="757">0.8</text>
<text x="1978.5" y="836">0.4</text>
<text x="1978.5" y="915">0.0</text>
</g>
</svg>
</body></html>
